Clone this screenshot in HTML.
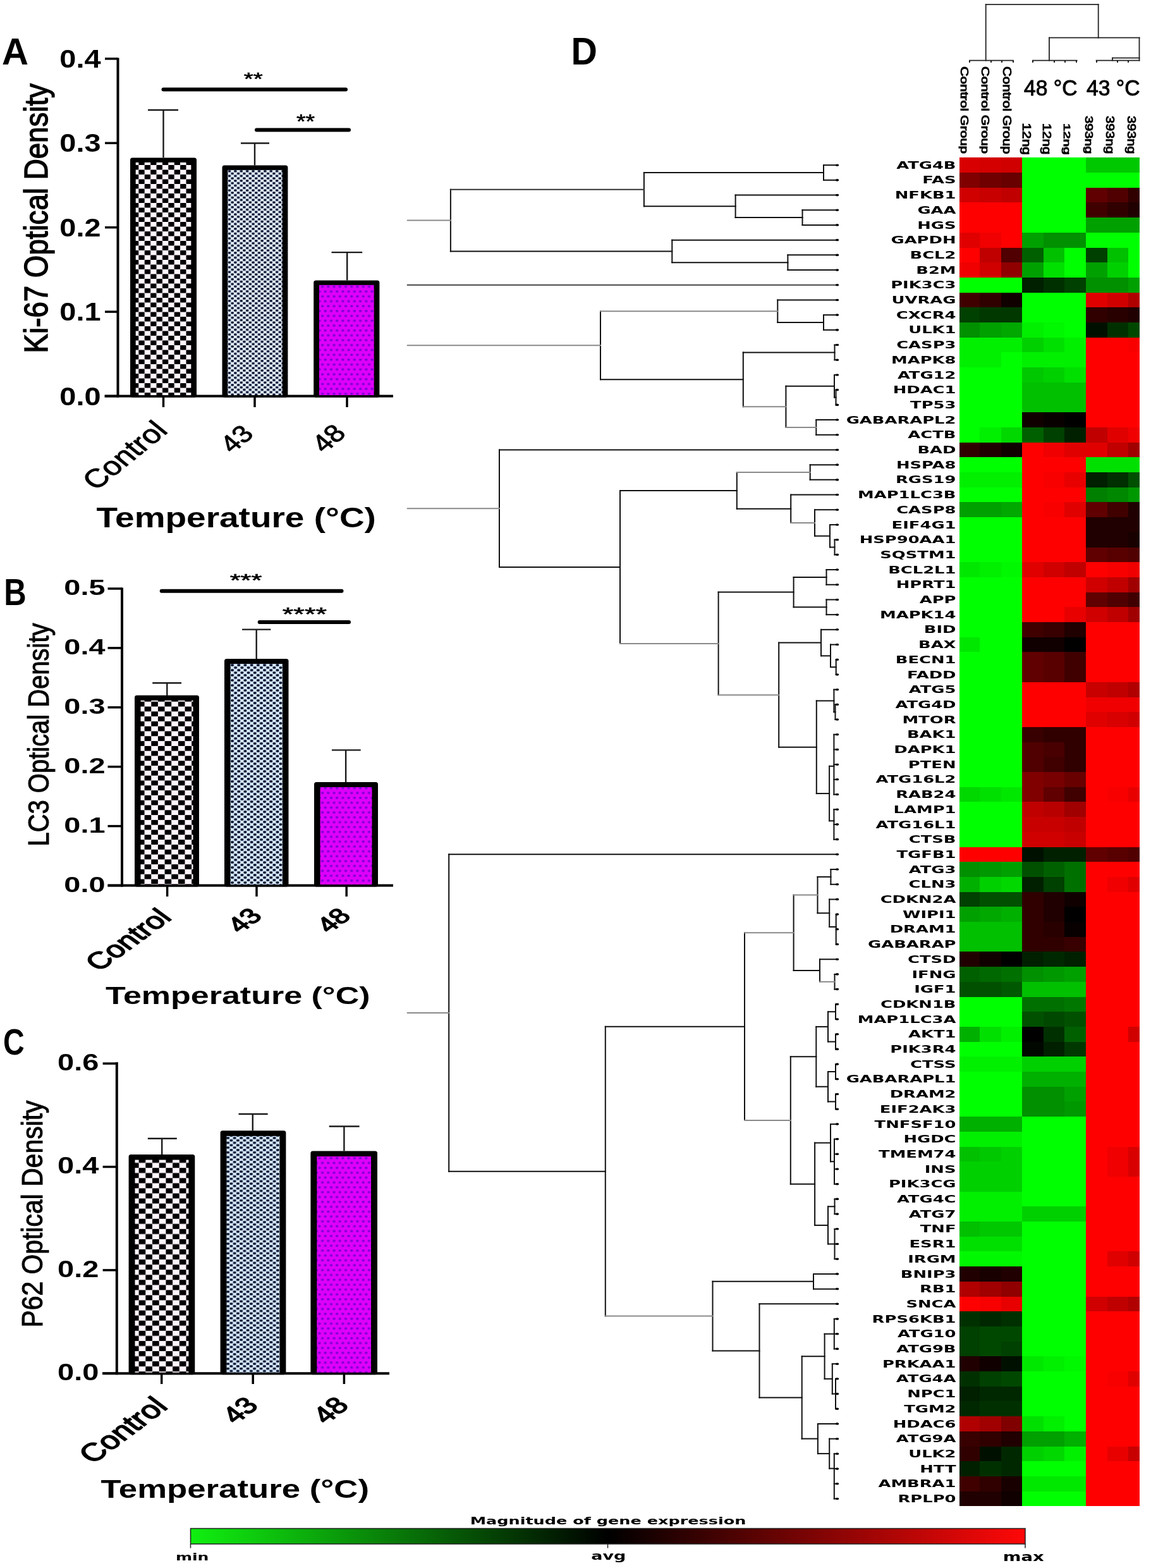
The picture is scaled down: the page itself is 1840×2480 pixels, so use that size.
<!DOCTYPE html>
<html><head><meta charset="utf-8"><title>Figure</title>
<style>html,body{margin:0;padding:0;background:#fff;overflow:hidden;width:1840px;height:2480px;} svg{display:block;}</style></head>
<body>
<svg width="1840" height="2480" viewBox="0 0 1840 2480"><defs><pattern id="chkA_A" patternUnits="userSpaceOnUse" x="228.7" y="261.0" width="18.8" height="15.0"><rect width="18.8" height="15.0" fill="#fff6fd"/><rect x="0.0" y="0.0" width="9.4" height="7.5" rx="0.8" fill="#030003"/><rect x="9.4" y="7.5" width="9.4" height="7.5" rx="0.8" fill="#030003"/></pattern><pattern id="chkA_B" patternUnits="userSpaceOnUse" x="217.95" y="1203.3" width="21.3" height="15.6"><rect width="21.3" height="15.6" fill="#fff6fd"/><rect x="0.0" y="0.0" width="10.65" height="7.8" rx="0.8" fill="#030003"/><rect x="10.65" y="7.8" width="10.65" height="7.8" rx="0.8" fill="#030003"/></pattern><pattern id="chkA_C" patternUnits="userSpaceOnUse" x="219.6" y="1911.6" width="21.4" height="16.1"><rect width="21.4" height="16.1" fill="#fff6fd"/><rect x="0.0" y="0.0" width="10.7" height="8.05" rx="0.8" fill="#030003"/><rect x="10.7" y="8.05" width="10.7" height="8.05" rx="0.8" fill="#030003"/></pattern><pattern id="chkB_A" patternUnits="userSpaceOnUse" x="360.6" y="268.8" width="9.4" height="7.6"><rect width="9.4" height="7.6" fill="#e4effc"/><rect x="0.2" y="0.2" width="4.3" height="3.4" rx="0.9" fill="#06102c"/><rect x="4.9" y="4.0" width="4.3" height="3.4" rx="0.9" fill="#06102c"/></pattern><pattern id="chkB_B" patternUnits="userSpaceOnUse" x="365.0" y="1050.0" width="10.2" height="8.0"><rect width="10.2" height="8.0" fill="#d6e8fb"/><rect x="0.25" y="0.25" width="4.6" height="3.5" rx="1.0" fill="#06102c"/><rect x="5.35" y="4.25" width="4.6" height="3.5" rx="1.0" fill="#06102c"/></pattern><pattern id="chkB_C" patternUnits="userSpaceOnUse" x="358.0" y="1798.0" width="10.5" height="7.6"><rect width="10.5" height="7.6" fill="#d6e8fb"/><rect x="0.25" y="0.25" width="4.75" height="3.3" rx="1.0" fill="#06102c"/><rect x="5.5" y="4.05" width="4.75" height="3.3" rx="1.0" fill="#06102c"/></pattern><pattern id="dotM" patternUnits="userSpaceOnUse" x="521.6" y="518.85" width="9.24" height="15.4"><rect width="9.24" height="15.4" fill="#de00fa"/><ellipse cx="2.31" cy="3.85" rx="2.3" ry="1.9" fill="#8400d4"/><ellipse cx="6.93" cy="11.55" rx="2.3" ry="1.9" fill="#8400d4"/></pattern></defs>
<line x1="186.50" y1="91.40" x2="186.50" y2="628.50" stroke="#000" stroke-width="4" stroke-linecap="butt"/>
<line x1="166.00" y1="626.50" x2="186.50" y2="626.50" stroke="#000" stroke-width="3.5" stroke-linecap="butt"/>
<line x1="166.00" y1="493.10" x2="186.50" y2="493.10" stroke="#000" stroke-width="3.5" stroke-linecap="butt"/>
<line x1="166.00" y1="359.70" x2="186.50" y2="359.70" stroke="#000" stroke-width="3.5" stroke-linecap="butt"/>
<line x1="166.00" y1="226.30" x2="186.50" y2="226.30" stroke="#000" stroke-width="3.5" stroke-linecap="butt"/>
<line x1="166.00" y1="92.90" x2="186.50" y2="92.90" stroke="#000" stroke-width="3.5" stroke-linecap="butt"/>
<line x1="165.50" y1="626.50" x2="622.00" y2="626.50" stroke="#000" stroke-width="4" stroke-linecap="butt"/>
<rect x="206.00" y="249.50" width="105.00" height="379.00" fill="#000" rx="3.5"/>
<rect x="214.70" y="256.90" width="87.60" height="368.10" fill="url(#chkA_A)" />
<rect x="351.50" y="261.50" width="103.90" height="367.00" fill="#000" rx="3.5"/>
<rect x="360.20" y="268.90" width="86.50" height="356.10" fill="url(#chkB_A)" />
<rect x="496.20" y="443.40" width="104.20" height="185.10" fill="#000" rx="3.5"/>
<rect x="504.90" y="450.80" width="86.80" height="174.20" fill="url(#dotM)" />
<line x1="258.50" y1="249.50" x2="258.50" y2="174.00" stroke="#1a1a1a" stroke-width="2.4" stroke-linecap="butt"/>
<line x1="234.00" y1="174.00" x2="282.00" y2="174.00" stroke="#1a1a1a" stroke-width="2.4" stroke-linecap="butt"/>
<line x1="403.00" y1="261.50" x2="403.00" y2="226.50" stroke="#1a1a1a" stroke-width="2.4" stroke-linecap="butt"/>
<line x1="381.00" y1="226.50" x2="426.00" y2="226.50" stroke="#1a1a1a" stroke-width="2.4" stroke-linecap="butt"/>
<line x1="549.20" y1="443.40" x2="549.20" y2="399.10" stroke="#1a1a1a" stroke-width="2.4" stroke-linecap="butt"/>
<line x1="524.50" y1="399.10" x2="573.20" y2="399.10" stroke="#1a1a1a" stroke-width="2.4" stroke-linecap="butt"/>
<line x1="258.50" y1="626.50" x2="258.50" y2="644.00" stroke="#000" stroke-width="3.5" stroke-linecap="butt"/>
<line x1="403.00" y1="626.50" x2="403.00" y2="644.00" stroke="#000" stroke-width="3.5" stroke-linecap="butt"/>
<line x1="549.00" y1="626.50" x2="549.00" y2="644.00" stroke="#000" stroke-width="3.5" stroke-linecap="butt"/>
<line x1="258.50" y1="141.60" x2="547.00" y2="141.60" stroke="#000" stroke-width="6" stroke-linecap="round"/>
<line x1="406.00" y1="205.60" x2="552.00" y2="205.60" stroke="#000" stroke-width="6" stroke-linecap="round"/>
<line x1="193.00" y1="929.40" x2="193.00" y2="1402.50" stroke="#000" stroke-width="4" stroke-linecap="butt"/>
<line x1="170.50" y1="1400.50" x2="193.00" y2="1400.50" stroke="#000" stroke-width="3.5" stroke-linecap="butt"/>
<line x1="170.50" y1="1306.60" x2="193.00" y2="1306.60" stroke="#000" stroke-width="3.5" stroke-linecap="butt"/>
<line x1="170.50" y1="1212.70" x2="193.00" y2="1212.70" stroke="#000" stroke-width="3.5" stroke-linecap="butt"/>
<line x1="170.50" y1="1118.80" x2="193.00" y2="1118.80" stroke="#000" stroke-width="3.5" stroke-linecap="butt"/>
<line x1="170.50" y1="1024.90" x2="193.00" y2="1024.90" stroke="#000" stroke-width="3.5" stroke-linecap="butt"/>
<line x1="170.50" y1="931.00" x2="193.00" y2="931.00" stroke="#000" stroke-width="3.5" stroke-linecap="butt"/>
<line x1="170.50" y1="1400.50" x2="622.00" y2="1400.50" stroke="#000" stroke-width="4" stroke-linecap="butt"/>
<rect x="213.00" y="1099.80" width="102.00" height="302.70" fill="#000" rx="3.5"/>
<rect x="222.50" y="1107.80" width="83.00" height="291.20" fill="url(#chkA_B)" />
<rect x="355.00" y="1042.00" width="101.50" height="360.50" fill="#000" rx="3.5"/>
<rect x="364.50" y="1050.00" width="82.50" height="349.00" fill="url(#chkB_B)" />
<rect x="497.00" y="1237.00" width="101.00" height="165.50" fill="#000" rx="3.5"/>
<rect x="506.50" y="1245.00" width="82.00" height="154.00" fill="url(#dotM)" />
<line x1="264.30" y1="1100.00" x2="264.30" y2="1080.30" stroke="#1a1a1a" stroke-width="2.4" stroke-linecap="butt"/>
<line x1="241.20" y1="1080.30" x2="287.00" y2="1080.30" stroke="#1a1a1a" stroke-width="2.4" stroke-linecap="butt"/>
<line x1="405.70" y1="1042.00" x2="405.70" y2="995.60" stroke="#1a1a1a" stroke-width="2.4" stroke-linecap="butt"/>
<line x1="383.00" y1="995.60" x2="428.40" y2="995.60" stroke="#1a1a1a" stroke-width="2.4" stroke-linecap="butt"/>
<line x1="547.10" y1="1237.00" x2="547.10" y2="1186.40" stroke="#1a1a1a" stroke-width="2.4" stroke-linecap="butt"/>
<line x1="525.00" y1="1186.40" x2="570.70" y2="1186.40" stroke="#1a1a1a" stroke-width="2.4" stroke-linecap="butt"/>
<line x1="264.60" y1="1400.50" x2="264.60" y2="1418.00" stroke="#000" stroke-width="3.5" stroke-linecap="butt"/>
<line x1="406.00" y1="1400.50" x2="406.00" y2="1418.00" stroke="#000" stroke-width="3.5" stroke-linecap="butt"/>
<line x1="548.20" y1="1400.50" x2="548.20" y2="1418.00" stroke="#000" stroke-width="3.5" stroke-linecap="butt"/>
<line x1="255.70" y1="934.80" x2="540.50" y2="934.80" stroke="#000" stroke-width="6" stroke-linecap="round"/>
<line x1="410.70" y1="984.00" x2="552.00" y2="984.00" stroke="#000" stroke-width="6" stroke-linecap="round"/>
<line x1="184.80" y1="1679.90" x2="184.80" y2="2174.30" stroke="#000" stroke-width="4" stroke-linecap="butt"/>
<line x1="162.60" y1="2172.30" x2="184.80" y2="2172.30" stroke="#000" stroke-width="3.5" stroke-linecap="butt"/>
<line x1="162.60" y1="2008.90" x2="184.80" y2="2008.90" stroke="#000" stroke-width="3.5" stroke-linecap="butt"/>
<line x1="162.60" y1="1845.50" x2="184.80" y2="1845.50" stroke="#000" stroke-width="3.5" stroke-linecap="butt"/>
<line x1="162.60" y1="1682.10" x2="184.80" y2="1682.10" stroke="#000" stroke-width="3.5" stroke-linecap="butt"/>
<line x1="162.00" y1="2172.30" x2="616.00" y2="2172.30" stroke="#000" stroke-width="4" stroke-linecap="butt"/>
<rect x="203.60" y="1826.00" width="104.70" height="348.30" fill="#000" rx="3.5"/>
<rect x="213.50" y="1834.50" width="84.90" height="336.30" fill="url(#chkA_C)" />
<rect x="348.60" y="1788.30" width="103.80" height="386.00" fill="#000" rx="3.5"/>
<rect x="358.50" y="1796.80" width="84.00" height="374.00" fill="url(#chkB_C)" />
<rect x="491.40" y="1820.50" width="105.60" height="353.80" fill="#000" rx="3.5"/>
<rect x="501.30" y="1829.00" width="85.80" height="341.80" fill="url(#dotM)" />
<line x1="256.20" y1="1826.00" x2="256.20" y2="1800.80" stroke="#1a1a1a" stroke-width="2.4" stroke-linecap="butt"/>
<line x1="233.80" y1="1800.80" x2="279.80" y2="1800.80" stroke="#1a1a1a" stroke-width="2.4" stroke-linecap="butt"/>
<line x1="399.80" y1="1788.30" x2="399.80" y2="1762.00" stroke="#1a1a1a" stroke-width="2.4" stroke-linecap="butt"/>
<line x1="377.50" y1="1762.00" x2="423.70" y2="1762.00" stroke="#1a1a1a" stroke-width="2.4" stroke-linecap="butt"/>
<line x1="544.40" y1="1820.50" x2="544.40" y2="1781.50" stroke="#1a1a1a" stroke-width="2.4" stroke-linecap="butt"/>
<line x1="520.70" y1="1781.50" x2="568.60" y2="1781.50" stroke="#1a1a1a" stroke-width="2.4" stroke-linecap="butt"/>
<line x1="255.70" y1="2172.30" x2="255.70" y2="2189.00" stroke="#000" stroke-width="3.5" stroke-linecap="butt"/>
<line x1="400.20" y1="2172.30" x2="400.20" y2="2189.00" stroke="#000" stroke-width="3.5" stroke-linecap="butt"/>
<line x1="544.40" y1="2172.30" x2="544.40" y2="2189.00" stroke="#000" stroke-width="3.5" stroke-linecap="butt"/>
<line x1="1303.00" y1="261.15" x2="1303.00" y2="284.85" stroke="#111" stroke-width="2.0" stroke-linecap="square"/>
<line x1="1303.00" y1="261.15" x2="1326.00" y2="261.15" stroke="#111" stroke-width="2.0" stroke-linecap="square"/>
<line x1="1303.00" y1="284.85" x2="1326.00" y2="284.85" stroke="#111" stroke-width="2.0" stroke-linecap="square"/>
<line x1="1269.50" y1="332.25" x2="1269.50" y2="355.95" stroke="#111" stroke-width="2.0" stroke-linecap="square"/>
<line x1="1269.50" y1="332.25" x2="1326.00" y2="332.25" stroke="#111" stroke-width="2.0" stroke-linecap="square"/>
<line x1="1269.50" y1="355.95" x2="1326.00" y2="355.95" stroke="#111" stroke-width="2.0" stroke-linecap="square"/>
<line x1="1163.60" y1="308.55" x2="1163.60" y2="344.10" stroke="#111" stroke-width="2.0" stroke-linecap="square"/>
<line x1="1163.60" y1="308.55" x2="1326.00" y2="308.55" stroke="#111" stroke-width="2.0" stroke-linecap="square"/>
<line x1="1163.60" y1="344.10" x2="1269.50" y2="344.10" stroke="#111" stroke-width="2.0" stroke-linecap="square"/>
<line x1="1018.90" y1="273.00" x2="1018.90" y2="326.33" stroke="#111" stroke-width="2.0" stroke-linecap="square"/>
<line x1="1018.90" y1="273.00" x2="1303.00" y2="273.00" stroke="#111" stroke-width="2.0" stroke-linecap="square"/>
<line x1="1018.90" y1="326.33" x2="1163.60" y2="326.33" stroke="#111" stroke-width="2.0" stroke-linecap="square"/>
<line x1="1246.40" y1="403.35" x2="1246.40" y2="427.05" stroke="#111" stroke-width="2.0" stroke-linecap="square"/>
<line x1="1246.40" y1="403.35" x2="1326.00" y2="403.35" stroke="#111" stroke-width="2.0" stroke-linecap="square"/>
<line x1="1246.40" y1="427.05" x2="1326.00" y2="427.05" stroke="#111" stroke-width="2.0" stroke-linecap="square"/>
<line x1="1063.30" y1="379.65" x2="1063.30" y2="415.20" stroke="#111" stroke-width="2.0" stroke-linecap="square"/>
<line x1="1063.30" y1="379.65" x2="1326.00" y2="379.65" stroke="#111" stroke-width="2.0" stroke-linecap="square"/>
<line x1="1063.30" y1="415.20" x2="1246.40" y2="415.20" stroke="#111" stroke-width="2.0" stroke-linecap="square"/>
<line x1="712.90" y1="299.66" x2="712.90" y2="397.43" stroke="#111" stroke-width="2.0" stroke-linecap="square"/>
<line x1="712.90" y1="299.66" x2="1018.90" y2="299.66" stroke="#333" stroke-width="2.0" stroke-linecap="square"/>
<line x1="712.90" y1="397.43" x2="1063.30" y2="397.43" stroke="#111" stroke-width="2.0" stroke-linecap="square"/>
<line x1="644.80" y1="348.54" x2="712.90" y2="348.54" stroke="#8a8a8a" stroke-width="2.0" stroke-linecap="square"/>
<line x1="644.80" y1="450.75" x2="1326.00" y2="450.75" stroke="#444" stroke-width="2.0" stroke-linecap="square"/>
<line x1="1303.00" y1="498.15" x2="1303.00" y2="521.85" stroke="#111" stroke-width="2.0" stroke-linecap="square"/>
<line x1="1303.00" y1="498.15" x2="1326.00" y2="498.15" stroke="#111" stroke-width="2.0" stroke-linecap="square"/>
<line x1="1303.00" y1="521.85" x2="1326.00" y2="521.85" stroke="#111" stroke-width="2.0" stroke-linecap="square"/>
<line x1="1230.30" y1="474.45" x2="1230.30" y2="510.00" stroke="#111" stroke-width="2.0" stroke-linecap="square"/>
<line x1="1230.30" y1="474.45" x2="1326.00" y2="474.45" stroke="#111" stroke-width="2.0" stroke-linecap="square"/>
<line x1="1230.30" y1="510.00" x2="1303.00" y2="510.00" stroke="#111" stroke-width="2.0" stroke-linecap="square"/>
<line x1="1320.50" y1="545.55" x2="1320.50" y2="569.25" stroke="#111" stroke-width="2.0" stroke-linecap="square"/>
<line x1="1320.50" y1="545.55" x2="1326.00" y2="545.55" stroke="#111" stroke-width="2.0" stroke-linecap="square"/>
<line x1="1320.50" y1="569.25" x2="1326.00" y2="569.25" stroke="#111" stroke-width="2.0" stroke-linecap="square"/>
<line x1="1322.50" y1="616.65" x2="1322.50" y2="640.35" stroke="#111" stroke-width="2.0" stroke-linecap="square"/>
<line x1="1322.50" y1="616.65" x2="1326.00" y2="616.65" stroke="#111" stroke-width="2.0" stroke-linecap="square"/>
<line x1="1322.50" y1="640.35" x2="1326.00" y2="640.35" stroke="#111" stroke-width="2.0" stroke-linecap="square"/>
<line x1="1320.00" y1="592.95" x2="1320.00" y2="628.50" stroke="#111" stroke-width="2.0" stroke-linecap="square"/>
<line x1="1320.00" y1="592.95" x2="1326.00" y2="592.95" stroke="#111" stroke-width="2.0" stroke-linecap="square"/>
<line x1="1320.00" y1="628.50" x2="1322.50" y2="628.50" stroke="#111" stroke-width="2.0" stroke-linecap="square"/>
<line x1="1291.30" y1="664.05" x2="1291.30" y2="687.75" stroke="#111" stroke-width="2.0" stroke-linecap="square"/>
<line x1="1291.30" y1="664.05" x2="1326.00" y2="664.05" stroke="#111" stroke-width="2.0" stroke-linecap="square"/>
<line x1="1291.30" y1="687.75" x2="1326.00" y2="687.75" stroke="#111" stroke-width="2.0" stroke-linecap="square"/>
<line x1="1243.40" y1="610.73" x2="1243.40" y2="675.90" stroke="#111" stroke-width="2.0" stroke-linecap="square"/>
<line x1="1243.40" y1="610.73" x2="1320.00" y2="610.73" stroke="#111" stroke-width="2.0" stroke-linecap="square"/>
<line x1="1243.40" y1="675.90" x2="1291.30" y2="675.90" stroke="#8a8a8a" stroke-width="2.0" stroke-linecap="square"/>
<line x1="1175.80" y1="557.40" x2="1175.80" y2="643.31" stroke="#111" stroke-width="2.0" stroke-linecap="square"/>
<line x1="1175.80" y1="557.40" x2="1320.50" y2="557.40" stroke="#111" stroke-width="2.0" stroke-linecap="square"/>
<line x1="1175.80" y1="643.31" x2="1243.40" y2="643.31" stroke="#8a8a8a" stroke-width="2.0" stroke-linecap="square"/>
<line x1="950.00" y1="492.23" x2="950.00" y2="600.36" stroke="#111" stroke-width="2.0" stroke-linecap="square"/>
<line x1="950.00" y1="492.23" x2="1230.30" y2="492.23" stroke="#8a8a8a" stroke-width="2.0" stroke-linecap="square"/>
<line x1="950.00" y1="600.36" x2="1175.80" y2="600.36" stroke="#111" stroke-width="2.0" stroke-linecap="square"/>
<line x1="644.80" y1="546.29" x2="950.00" y2="546.29" stroke="#8a8a8a" stroke-width="2.0" stroke-linecap="square"/>
<line x1="1281.70" y1="735.15" x2="1281.70" y2="758.85" stroke="#111" stroke-width="2.0" stroke-linecap="square"/>
<line x1="1281.70" y1="735.15" x2="1326.00" y2="735.15" stroke="#111" stroke-width="2.0" stroke-linecap="square"/>
<line x1="1281.70" y1="758.85" x2="1326.00" y2="758.85" stroke="#111" stroke-width="2.0" stroke-linecap="square"/>
<line x1="1320.50" y1="853.65" x2="1320.50" y2="877.35" stroke="#111" stroke-width="2.0" stroke-linecap="square"/>
<line x1="1320.50" y1="853.65" x2="1326.00" y2="853.65" stroke="#111" stroke-width="2.0" stroke-linecap="square"/>
<line x1="1320.50" y1="877.35" x2="1326.00" y2="877.35" stroke="#111" stroke-width="2.0" stroke-linecap="square"/>
<line x1="1313.00" y1="829.95" x2="1313.00" y2="865.50" stroke="#111" stroke-width="2.0" stroke-linecap="square"/>
<line x1="1313.00" y1="829.95" x2="1326.00" y2="829.95" stroke="#111" stroke-width="2.0" stroke-linecap="square"/>
<line x1="1313.00" y1="865.50" x2="1320.50" y2="865.50" stroke="#111" stroke-width="2.0" stroke-linecap="square"/>
<line x1="1289.00" y1="806.25" x2="1289.00" y2="847.73" stroke="#111" stroke-width="2.0" stroke-linecap="square"/>
<line x1="1289.00" y1="806.25" x2="1326.00" y2="806.25" stroke="#111" stroke-width="2.0" stroke-linecap="square"/>
<line x1="1289.00" y1="847.73" x2="1313.00" y2="847.73" stroke="#111" stroke-width="2.0" stroke-linecap="square"/>
<line x1="1251.20" y1="782.55" x2="1251.20" y2="826.99" stroke="#111" stroke-width="2.0" stroke-linecap="square"/>
<line x1="1251.20" y1="782.55" x2="1326.00" y2="782.55" stroke="#111" stroke-width="2.0" stroke-linecap="square"/>
<line x1="1251.20" y1="826.99" x2="1289.00" y2="826.99" stroke="#8a8a8a" stroke-width="2.0" stroke-linecap="square"/>
<line x1="1165.80" y1="747.00" x2="1165.80" y2="804.77" stroke="#111" stroke-width="2.0" stroke-linecap="square"/>
<line x1="1165.80" y1="747.00" x2="1281.70" y2="747.00" stroke="#8a8a8a" stroke-width="2.0" stroke-linecap="square"/>
<line x1="1165.80" y1="804.77" x2="1251.20" y2="804.77" stroke="#111" stroke-width="2.0" stroke-linecap="square"/>
<line x1="1307.50" y1="901.05" x2="1307.50" y2="924.75" stroke="#111" stroke-width="2.0" stroke-linecap="square"/>
<line x1="1307.50" y1="901.05" x2="1326.00" y2="901.05" stroke="#111" stroke-width="2.0" stroke-linecap="square"/>
<line x1="1307.50" y1="924.75" x2="1326.00" y2="924.75" stroke="#111" stroke-width="2.0" stroke-linecap="square"/>
<line x1="1307.50" y1="948.45" x2="1307.50" y2="972.15" stroke="#111" stroke-width="2.0" stroke-linecap="square"/>
<line x1="1307.50" y1="948.45" x2="1326.00" y2="948.45" stroke="#111" stroke-width="2.0" stroke-linecap="square"/>
<line x1="1307.50" y1="972.15" x2="1326.00" y2="972.15" stroke="#111" stroke-width="2.0" stroke-linecap="square"/>
<line x1="1255.60" y1="912.90" x2="1255.60" y2="960.30" stroke="#111" stroke-width="2.0" stroke-linecap="square"/>
<line x1="1255.60" y1="912.90" x2="1307.50" y2="912.90" stroke="#111" stroke-width="2.0" stroke-linecap="square"/>
<line x1="1255.60" y1="960.30" x2="1307.50" y2="960.30" stroke="#111" stroke-width="2.0" stroke-linecap="square"/>
<line x1="1322.70" y1="1043.25" x2="1322.70" y2="1066.95" stroke="#111" stroke-width="2.0" stroke-linecap="square"/>
<line x1="1322.70" y1="1043.25" x2="1326.00" y2="1043.25" stroke="#111" stroke-width="2.0" stroke-linecap="square"/>
<line x1="1322.70" y1="1066.95" x2="1326.00" y2="1066.95" stroke="#111" stroke-width="2.0" stroke-linecap="square"/>
<line x1="1314.00" y1="1019.55" x2="1314.00" y2="1055.10" stroke="#111" stroke-width="2.0" stroke-linecap="square"/>
<line x1="1314.00" y1="1019.55" x2="1326.00" y2="1019.55" stroke="#111" stroke-width="2.0" stroke-linecap="square"/>
<line x1="1314.00" y1="1055.10" x2="1322.70" y2="1055.10" stroke="#111" stroke-width="2.0" stroke-linecap="square"/>
<line x1="1299.00" y1="995.85" x2="1299.00" y2="1037.32" stroke="#111" stroke-width="2.0" stroke-linecap="square"/>
<line x1="1299.00" y1="995.85" x2="1326.00" y2="995.85" stroke="#111" stroke-width="2.0" stroke-linecap="square"/>
<line x1="1299.00" y1="1037.32" x2="1314.00" y2="1037.32" stroke="#111" stroke-width="2.0" stroke-linecap="square"/>
<line x1="1321.50" y1="1114.35" x2="1321.50" y2="1138.05" stroke="#111" stroke-width="2.0" stroke-linecap="square"/>
<line x1="1321.50" y1="1114.35" x2="1326.00" y2="1114.35" stroke="#111" stroke-width="2.0" stroke-linecap="square"/>
<line x1="1321.50" y1="1138.05" x2="1326.00" y2="1138.05" stroke="#111" stroke-width="2.0" stroke-linecap="square"/>
<line x1="1319.40" y1="1090.65" x2="1319.40" y2="1126.20" stroke="#111" stroke-width="2.0" stroke-linecap="square"/>
<line x1="1319.40" y1="1090.65" x2="1326.00" y2="1090.65" stroke="#111" stroke-width="2.0" stroke-linecap="square"/>
<line x1="1319.40" y1="1126.20" x2="1321.50" y2="1126.20" stroke="#111" stroke-width="2.0" stroke-linecap="square"/>
<line x1="1319.40" y1="1161.75" x2="1319.40" y2="1256.55" stroke="#111" stroke-width="2.0" stroke-linecap="square"/>
<line x1="1319.40" y1="1161.75" x2="1326.00" y2="1161.75" stroke="#111" stroke-width="2.0" stroke-linecap="square"/>
<line x1="1319.40" y1="1185.45" x2="1326.00" y2="1185.45" stroke="#111" stroke-width="2.0" stroke-linecap="square"/>
<line x1="1319.40" y1="1209.15" x2="1326.00" y2="1209.15" stroke="#111" stroke-width="2.0" stroke-linecap="square"/>
<line x1="1319.40" y1="1232.85" x2="1326.00" y2="1232.85" stroke="#111" stroke-width="2.0" stroke-linecap="square"/>
<line x1="1319.40" y1="1256.55" x2="1326.00" y2="1256.55" stroke="#111" stroke-width="2.0" stroke-linecap="square"/>
<line x1="1319.40" y1="1280.25" x2="1319.40" y2="1327.65" stroke="#111" stroke-width="2.0" stroke-linecap="square"/>
<line x1="1319.40" y1="1280.25" x2="1326.00" y2="1280.25" stroke="#111" stroke-width="2.0" stroke-linecap="square"/>
<line x1="1319.40" y1="1303.95" x2="1326.00" y2="1303.95" stroke="#111" stroke-width="2.0" stroke-linecap="square"/>
<line x1="1319.40" y1="1327.65" x2="1326.00" y2="1327.65" stroke="#111" stroke-width="2.0" stroke-linecap="square"/>
<line x1="1312.10" y1="1211.80" x2="1312.10" y2="1298.30" stroke="#111" stroke-width="2.0" stroke-linecap="square"/>
<line x1="1312.10" y1="1211.80" x2="1319.40" y2="1211.80" stroke="#111" stroke-width="2.0" stroke-linecap="square"/>
<line x1="1312.10" y1="1298.30" x2="1319.40" y2="1298.30" stroke="#111" stroke-width="2.0" stroke-linecap="square"/>
<line x1="1291.80" y1="1108.42" x2="1291.80" y2="1255.05" stroke="#111" stroke-width="2.0" stroke-linecap="square"/>
<line x1="1291.80" y1="1108.42" x2="1319.40" y2="1108.42" stroke="#111" stroke-width="2.0" stroke-linecap="square"/>
<line x1="1291.80" y1="1255.05" x2="1312.10" y2="1255.05" stroke="#111" stroke-width="2.0" stroke-linecap="square"/>
<line x1="1232.20" y1="1016.59" x2="1232.20" y2="1181.74" stroke="#111" stroke-width="2.0" stroke-linecap="square"/>
<line x1="1232.20" y1="1016.59" x2="1299.00" y2="1016.59" stroke="#111" stroke-width="2.0" stroke-linecap="square"/>
<line x1="1232.20" y1="1181.74" x2="1291.80" y2="1181.74" stroke="#111" stroke-width="2.0" stroke-linecap="square"/>
<line x1="1136.60" y1="936.60" x2="1136.60" y2="1099.16" stroke="#111" stroke-width="2.0" stroke-linecap="square"/>
<line x1="1136.60" y1="936.60" x2="1255.60" y2="936.60" stroke="#111" stroke-width="2.0" stroke-linecap="square"/>
<line x1="1136.60" y1="1099.16" x2="1232.20" y2="1099.16" stroke="#8a8a8a" stroke-width="2.0" stroke-linecap="square"/>
<line x1="981.00" y1="775.88" x2="981.00" y2="1017.88" stroke="#111" stroke-width="2.0" stroke-linecap="square"/>
<line x1="981.00" y1="775.88" x2="1165.80" y2="775.88" stroke="#111" stroke-width="2.0" stroke-linecap="square"/>
<line x1="981.00" y1="1017.88" x2="1136.60" y2="1017.88" stroke="#8a8a8a" stroke-width="2.0" stroke-linecap="square"/>
<line x1="790.00" y1="711.45" x2="790.00" y2="896.88" stroke="#111" stroke-width="2.0" stroke-linecap="square"/>
<line x1="790.00" y1="711.45" x2="1326.00" y2="711.45" stroke="#111" stroke-width="2.0" stroke-linecap="square"/>
<line x1="790.00" y1="896.88" x2="981.00" y2="896.88" stroke="#111" stroke-width="2.0" stroke-linecap="square"/>
<line x1="644.80" y1="804.17" x2="790.00" y2="804.17" stroke="#8a8a8a" stroke-width="2.0" stroke-linecap="square"/>
<line x1="1314.40" y1="1375.05" x2="1314.40" y2="1398.75" stroke="#111" stroke-width="2.0" stroke-linecap="square"/>
<line x1="1314.40" y1="1375.05" x2="1326.00" y2="1375.05" stroke="#111" stroke-width="2.0" stroke-linecap="square"/>
<line x1="1314.40" y1="1398.75" x2="1326.00" y2="1398.75" stroke="#111" stroke-width="2.0" stroke-linecap="square"/>
<line x1="1322.70" y1="1446.15" x2="1322.70" y2="1493.55" stroke="#111" stroke-width="2.0" stroke-linecap="square"/>
<line x1="1322.70" y1="1446.15" x2="1326.00" y2="1446.15" stroke="#111" stroke-width="2.0" stroke-linecap="square"/>
<line x1="1322.70" y1="1469.85" x2="1326.00" y2="1469.85" stroke="#111" stroke-width="2.0" stroke-linecap="square"/>
<line x1="1322.70" y1="1493.55" x2="1326.00" y2="1493.55" stroke="#111" stroke-width="2.0" stroke-linecap="square"/>
<line x1="1312.20" y1="1422.45" x2="1312.20" y2="1466.00" stroke="#111" stroke-width="2.0" stroke-linecap="square"/>
<line x1="1312.20" y1="1422.45" x2="1326.00" y2="1422.45" stroke="#111" stroke-width="2.0" stroke-linecap="square"/>
<line x1="1312.20" y1="1466.00" x2="1322.70" y2="1466.00" stroke="#111" stroke-width="2.0" stroke-linecap="square"/>
<line x1="1293.50" y1="1386.90" x2="1293.50" y2="1444.22" stroke="#111" stroke-width="2.0" stroke-linecap="square"/>
<line x1="1293.50" y1="1386.90" x2="1314.40" y2="1386.90" stroke="#111" stroke-width="2.0" stroke-linecap="square"/>
<line x1="1293.50" y1="1444.22" x2="1312.20" y2="1444.22" stroke="#111" stroke-width="2.0" stroke-linecap="square"/>
<line x1="1320.50" y1="1540.95" x2="1320.50" y2="1564.65" stroke="#111" stroke-width="2.0" stroke-linecap="square"/>
<line x1="1320.50" y1="1540.95" x2="1326.00" y2="1540.95" stroke="#111" stroke-width="2.0" stroke-linecap="square"/>
<line x1="1320.50" y1="1564.65" x2="1326.00" y2="1564.65" stroke="#111" stroke-width="2.0" stroke-linecap="square"/>
<line x1="1297.00" y1="1517.25" x2="1297.00" y2="1552.80" stroke="#111" stroke-width="2.0" stroke-linecap="square"/>
<line x1="1297.00" y1="1517.25" x2="1326.00" y2="1517.25" stroke="#111" stroke-width="2.0" stroke-linecap="square"/>
<line x1="1297.00" y1="1552.80" x2="1320.50" y2="1552.80" stroke="#8a8a8a" stroke-width="2.0" stroke-linecap="square"/>
<line x1="1255.60" y1="1415.56" x2="1255.60" y2="1535.02" stroke="#111" stroke-width="2.0" stroke-linecap="square"/>
<line x1="1255.60" y1="1415.56" x2="1293.50" y2="1415.56" stroke="#8a8a8a" stroke-width="2.0" stroke-linecap="square"/>
<line x1="1255.60" y1="1535.02" x2="1297.00" y2="1535.02" stroke="#111" stroke-width="2.0" stroke-linecap="square"/>
<line x1="1322.00" y1="1588.35" x2="1322.00" y2="1612.05" stroke="#111" stroke-width="2.0" stroke-linecap="square"/>
<line x1="1322.00" y1="1588.35" x2="1326.00" y2="1588.35" stroke="#111" stroke-width="2.0" stroke-linecap="square"/>
<line x1="1322.00" y1="1612.05" x2="1326.00" y2="1612.05" stroke="#111" stroke-width="2.0" stroke-linecap="square"/>
<line x1="1322.00" y1="1635.75" x2="1322.00" y2="1659.45" stroke="#111" stroke-width="2.0" stroke-linecap="square"/>
<line x1="1322.00" y1="1635.75" x2="1326.00" y2="1635.75" stroke="#111" stroke-width="2.0" stroke-linecap="square"/>
<line x1="1322.00" y1="1659.45" x2="1326.00" y2="1659.45" stroke="#111" stroke-width="2.0" stroke-linecap="square"/>
<line x1="1310.00" y1="1600.20" x2="1310.00" y2="1647.60" stroke="#111" stroke-width="2.0" stroke-linecap="square"/>
<line x1="1310.00" y1="1600.20" x2="1322.00" y2="1600.20" stroke="#111" stroke-width="2.0" stroke-linecap="square"/>
<line x1="1310.00" y1="1647.60" x2="1322.00" y2="1647.60" stroke="#111" stroke-width="2.0" stroke-linecap="square"/>
<line x1="1322.00" y1="1683.15" x2="1322.00" y2="1706.85" stroke="#111" stroke-width="2.0" stroke-linecap="square"/>
<line x1="1322.00" y1="1683.15" x2="1326.00" y2="1683.15" stroke="#111" stroke-width="2.0" stroke-linecap="square"/>
<line x1="1322.00" y1="1706.85" x2="1326.00" y2="1706.85" stroke="#111" stroke-width="2.0" stroke-linecap="square"/>
<line x1="1322.00" y1="1730.55" x2="1322.00" y2="1754.25" stroke="#111" stroke-width="2.0" stroke-linecap="square"/>
<line x1="1322.00" y1="1730.55" x2="1326.00" y2="1730.55" stroke="#111" stroke-width="2.0" stroke-linecap="square"/>
<line x1="1322.00" y1="1754.25" x2="1326.00" y2="1754.25" stroke="#111" stroke-width="2.0" stroke-linecap="square"/>
<line x1="1310.00" y1="1695.00" x2="1310.00" y2="1742.40" stroke="#111" stroke-width="2.0" stroke-linecap="square"/>
<line x1="1310.00" y1="1695.00" x2="1322.00" y2="1695.00" stroke="#111" stroke-width="2.0" stroke-linecap="square"/>
<line x1="1310.00" y1="1742.40" x2="1322.00" y2="1742.40" stroke="#111" stroke-width="2.0" stroke-linecap="square"/>
<line x1="1291.30" y1="1623.90" x2="1291.30" y2="1718.70" stroke="#111" stroke-width="2.0" stroke-linecap="square"/>
<line x1="1291.30" y1="1623.90" x2="1310.00" y2="1623.90" stroke="#111" stroke-width="2.0" stroke-linecap="square"/>
<line x1="1291.30" y1="1718.70" x2="1310.00" y2="1718.70" stroke="#111" stroke-width="2.0" stroke-linecap="square"/>
<line x1="1320.00" y1="1801.65" x2="1320.00" y2="1872.75" stroke="#111" stroke-width="2.0" stroke-linecap="square"/>
<line x1="1320.00" y1="1801.65" x2="1326.00" y2="1801.65" stroke="#111" stroke-width="2.0" stroke-linecap="square"/>
<line x1="1320.00" y1="1825.35" x2="1326.00" y2="1825.35" stroke="#111" stroke-width="2.0" stroke-linecap="square"/>
<line x1="1320.00" y1="1849.05" x2="1326.00" y2="1849.05" stroke="#111" stroke-width="2.0" stroke-linecap="square"/>
<line x1="1320.00" y1="1872.75" x2="1326.00" y2="1872.75" stroke="#111" stroke-width="2.0" stroke-linecap="square"/>
<line x1="1314.00" y1="1777.95" x2="1314.00" y2="1837.20" stroke="#111" stroke-width="2.0" stroke-linecap="square"/>
<line x1="1314.00" y1="1777.95" x2="1326.00" y2="1777.95" stroke="#111" stroke-width="2.0" stroke-linecap="square"/>
<line x1="1314.00" y1="1837.20" x2="1320.00" y2="1837.20" stroke="#111" stroke-width="2.0" stroke-linecap="square"/>
<line x1="1320.50" y1="1896.45" x2="1320.50" y2="1920.15" stroke="#111" stroke-width="2.0" stroke-linecap="square"/>
<line x1="1320.50" y1="1896.45" x2="1326.00" y2="1896.45" stroke="#111" stroke-width="2.0" stroke-linecap="square"/>
<line x1="1320.50" y1="1920.15" x2="1326.00" y2="1920.15" stroke="#111" stroke-width="2.0" stroke-linecap="square"/>
<line x1="1320.50" y1="1943.85" x2="1320.50" y2="1991.25" stroke="#111" stroke-width="2.0" stroke-linecap="square"/>
<line x1="1320.50" y1="1943.85" x2="1326.00" y2="1943.85" stroke="#111" stroke-width="2.0" stroke-linecap="square"/>
<line x1="1320.50" y1="1967.55" x2="1326.00" y2="1967.55" stroke="#111" stroke-width="2.0" stroke-linecap="square"/>
<line x1="1320.50" y1="1991.25" x2="1326.00" y2="1991.25" stroke="#111" stroke-width="2.0" stroke-linecap="square"/>
<line x1="1310.00" y1="1908.30" x2="1310.00" y2="1967.55" stroke="#111" stroke-width="2.0" stroke-linecap="square"/>
<line x1="1310.00" y1="1908.30" x2="1320.50" y2="1908.30" stroke="#111" stroke-width="2.0" stroke-linecap="square"/>
<line x1="1310.00" y1="1967.55" x2="1320.50" y2="1967.55" stroke="#111" stroke-width="2.0" stroke-linecap="square"/>
<line x1="1289.10" y1="1807.57" x2="1289.10" y2="1937.92" stroke="#111" stroke-width="2.0" stroke-linecap="square"/>
<line x1="1289.10" y1="1807.57" x2="1314.00" y2="1807.57" stroke="#111" stroke-width="2.0" stroke-linecap="square"/>
<line x1="1289.10" y1="1937.92" x2="1310.00" y2="1937.92" stroke="#111" stroke-width="2.0" stroke-linecap="square"/>
<line x1="1250.80" y1="1671.30" x2="1250.80" y2="1872.75" stroke="#111" stroke-width="2.0" stroke-linecap="square"/>
<line x1="1250.80" y1="1671.30" x2="1291.30" y2="1671.30" stroke="#111" stroke-width="2.0" stroke-linecap="square"/>
<line x1="1250.80" y1="1872.75" x2="1289.10" y2="1872.75" stroke="#111" stroke-width="2.0" stroke-linecap="square"/>
<line x1="1178.00" y1="1475.29" x2="1178.00" y2="1772.02" stroke="#111" stroke-width="2.0" stroke-linecap="square"/>
<line x1="1178.00" y1="1475.29" x2="1255.60" y2="1475.29" stroke="#8a8a8a" stroke-width="2.0" stroke-linecap="square"/>
<line x1="1178.00" y1="1772.02" x2="1250.80" y2="1772.02" stroke="#8a8a8a" stroke-width="2.0" stroke-linecap="square"/>
<line x1="1287.00" y1="2014.95" x2="1287.00" y2="2038.65" stroke="#111" stroke-width="2.0" stroke-linecap="square"/>
<line x1="1287.00" y1="2014.95" x2="1326.00" y2="2014.95" stroke="#111" stroke-width="2.0" stroke-linecap="square"/>
<line x1="1287.00" y1="2038.65" x2="1326.00" y2="2038.65" stroke="#111" stroke-width="2.0" stroke-linecap="square"/>
<line x1="1319.80" y1="2086.05" x2="1319.80" y2="2133.45" stroke="#111" stroke-width="2.0" stroke-linecap="square"/>
<line x1="1319.80" y1="2086.05" x2="1326.00" y2="2086.05" stroke="#111" stroke-width="2.0" stroke-linecap="square"/>
<line x1="1319.80" y1="2109.75" x2="1326.00" y2="2109.75" stroke="#111" stroke-width="2.0" stroke-linecap="square"/>
<line x1="1319.80" y1="2133.45" x2="1326.00" y2="2133.45" stroke="#111" stroke-width="2.0" stroke-linecap="square"/>
<line x1="1322.00" y1="2180.85" x2="1322.00" y2="2228.25" stroke="#111" stroke-width="2.0" stroke-linecap="square"/>
<line x1="1322.00" y1="2180.85" x2="1326.00" y2="2180.85" stroke="#111" stroke-width="2.0" stroke-linecap="square"/>
<line x1="1322.00" y1="2204.55" x2="1326.00" y2="2204.55" stroke="#111" stroke-width="2.0" stroke-linecap="square"/>
<line x1="1322.00" y1="2228.25" x2="1326.00" y2="2228.25" stroke="#111" stroke-width="2.0" stroke-linecap="square"/>
<line x1="1316.80" y1="2157.15" x2="1316.80" y2="2204.55" stroke="#111" stroke-width="2.0" stroke-linecap="square"/>
<line x1="1316.80" y1="2157.15" x2="1326.00" y2="2157.15" stroke="#111" stroke-width="2.0" stroke-linecap="square"/>
<line x1="1316.80" y1="2204.55" x2="1322.00" y2="2204.55" stroke="#111" stroke-width="2.0" stroke-linecap="square"/>
<line x1="1304.60" y1="2109.75" x2="1304.60" y2="2180.85" stroke="#111" stroke-width="2.0" stroke-linecap="square"/>
<line x1="1304.60" y1="2109.75" x2="1319.80" y2="2109.75" stroke="#111" stroke-width="2.0" stroke-linecap="square"/>
<line x1="1304.60" y1="2180.85" x2="1316.80" y2="2180.85" stroke="#111" stroke-width="2.0" stroke-linecap="square"/>
<line x1="1319.80" y1="2299.35" x2="1319.80" y2="2370.45" stroke="#111" stroke-width="2.0" stroke-linecap="square"/>
<line x1="1319.80" y1="2299.35" x2="1326.00" y2="2299.35" stroke="#111" stroke-width="2.0" stroke-linecap="square"/>
<line x1="1319.80" y1="2323.05" x2="1326.00" y2="2323.05" stroke="#111" stroke-width="2.0" stroke-linecap="square"/>
<line x1="1319.80" y1="2346.75" x2="1326.00" y2="2346.75" stroke="#111" stroke-width="2.0" stroke-linecap="square"/>
<line x1="1319.80" y1="2370.45" x2="1326.00" y2="2370.45" stroke="#111" stroke-width="2.0" stroke-linecap="square"/>
<line x1="1312.20" y1="2275.65" x2="1312.20" y2="2322.60" stroke="#111" stroke-width="2.0" stroke-linecap="square"/>
<line x1="1312.20" y1="2275.65" x2="1326.00" y2="2275.65" stroke="#111" stroke-width="2.0" stroke-linecap="square"/>
<line x1="1312.20" y1="2322.60" x2="1319.80" y2="2322.60" stroke="#111" stroke-width="2.0" stroke-linecap="square"/>
<line x1="1293.90" y1="2251.95" x2="1293.90" y2="2299.12" stroke="#111" stroke-width="2.0" stroke-linecap="square"/>
<line x1="1293.90" y1="2251.95" x2="1326.00" y2="2251.95" stroke="#111" stroke-width="2.0" stroke-linecap="square"/>
<line x1="1293.90" y1="2299.12" x2="1312.20" y2="2299.12" stroke="#111" stroke-width="2.0" stroke-linecap="square"/>
<line x1="1268.70" y1="2145.30" x2="1268.70" y2="2275.54" stroke="#111" stroke-width="2.0" stroke-linecap="square"/>
<line x1="1268.70" y1="2145.30" x2="1304.60" y2="2145.30" stroke="#111" stroke-width="2.0" stroke-linecap="square"/>
<line x1="1268.70" y1="2275.54" x2="1293.90" y2="2275.54" stroke="#111" stroke-width="2.0" stroke-linecap="square"/>
<line x1="1201.50" y1="2062.35" x2="1201.50" y2="2210.42" stroke="#111" stroke-width="2.0" stroke-linecap="square"/>
<line x1="1201.50" y1="2062.35" x2="1326.00" y2="2062.35" stroke="#111" stroke-width="2.0" stroke-linecap="square"/>
<line x1="1201.50" y1="2210.42" x2="1268.70" y2="2210.42" stroke="#111" stroke-width="2.0" stroke-linecap="square"/>
<line x1="1127.50" y1="2026.80" x2="1127.50" y2="2136.38" stroke="#111" stroke-width="2.0" stroke-linecap="square"/>
<line x1="1127.50" y1="2026.80" x2="1287.00" y2="2026.80" stroke="#111" stroke-width="2.0" stroke-linecap="square"/>
<line x1="1127.50" y1="2136.38" x2="1201.50" y2="2136.38" stroke="#111" stroke-width="2.0" stroke-linecap="square"/>
<line x1="957.80" y1="1623.66" x2="957.80" y2="2081.59" stroke="#111" stroke-width="2.0" stroke-linecap="square"/>
<line x1="957.80" y1="1623.66" x2="1178.00" y2="1623.66" stroke="#111" stroke-width="2.0" stroke-linecap="square"/>
<line x1="957.80" y1="2081.59" x2="1127.50" y2="2081.59" stroke="#8a8a8a" stroke-width="2.0" stroke-linecap="square"/>
<line x1="710.20" y1="1351.35" x2="710.20" y2="1852.63" stroke="#111" stroke-width="2.0" stroke-linecap="square"/>
<line x1="710.20" y1="1351.35" x2="1326.00" y2="1351.35" stroke="#111" stroke-width="2.0" stroke-linecap="square"/>
<line x1="710.20" y1="1852.63" x2="957.80" y2="1852.63" stroke="#111" stroke-width="2.0" stroke-linecap="square"/>
<line x1="644.80" y1="1601.99" x2="710.20" y2="1601.99" stroke="#8a8a8a" stroke-width="2.0" stroke-linecap="square"/>
<ellipse cx="1324.5" cy="261.2" rx="2.6" ry="1.8" fill="#000"/>
<ellipse cx="1324.5" cy="284.9" rx="2.6" ry="1.8" fill="#000"/>
<ellipse cx="1324.5" cy="308.6" rx="2.6" ry="1.8" fill="#000"/>
<ellipse cx="1324.5" cy="332.2" rx="2.6" ry="1.8" fill="#000"/>
<ellipse cx="1324.5" cy="355.9" rx="2.6" ry="1.8" fill="#000"/>
<ellipse cx="1324.5" cy="379.6" rx="2.6" ry="1.8" fill="#000"/>
<ellipse cx="1324.5" cy="403.4" rx="2.6" ry="1.8" fill="#000"/>
<ellipse cx="1324.5" cy="427.1" rx="2.6" ry="1.8" fill="#000"/>
<ellipse cx="1324.5" cy="450.8" rx="2.6" ry="1.8" fill="#000"/>
<ellipse cx="1324.5" cy="474.5" rx="2.6" ry="1.8" fill="#000"/>
<ellipse cx="1324.5" cy="498.1" rx="2.6" ry="1.8" fill="#000"/>
<ellipse cx="1324.5" cy="521.9" rx="2.6" ry="1.8" fill="#000"/>
<ellipse cx="1324.5" cy="545.5" rx="2.6" ry="1.8" fill="#000"/>
<ellipse cx="1324.5" cy="569.2" rx="2.6" ry="1.8" fill="#000"/>
<ellipse cx="1324.5" cy="593.0" rx="2.6" ry="1.8" fill="#000"/>
<ellipse cx="1324.5" cy="616.6" rx="2.6" ry="1.8" fill="#000"/>
<ellipse cx="1324.5" cy="640.4" rx="2.6" ry="1.8" fill="#000"/>
<ellipse cx="1324.5" cy="664.0" rx="2.6" ry="1.8" fill="#000"/>
<ellipse cx="1324.5" cy="687.8" rx="2.6" ry="1.8" fill="#000"/>
<ellipse cx="1324.5" cy="711.5" rx="2.6" ry="1.8" fill="#000"/>
<ellipse cx="1324.5" cy="735.1" rx="2.6" ry="1.8" fill="#000"/>
<ellipse cx="1324.5" cy="758.9" rx="2.6" ry="1.8" fill="#000"/>
<ellipse cx="1324.5" cy="782.5" rx="2.6" ry="1.8" fill="#000"/>
<ellipse cx="1324.5" cy="806.2" rx="2.6" ry="1.8" fill="#000"/>
<ellipse cx="1324.5" cy="830.0" rx="2.6" ry="1.8" fill="#000"/>
<ellipse cx="1324.5" cy="853.7" rx="2.6" ry="1.8" fill="#000"/>
<ellipse cx="1324.5" cy="877.3" rx="2.6" ry="1.8" fill="#000"/>
<ellipse cx="1324.5" cy="901.0" rx="2.6" ry="1.8" fill="#000"/>
<ellipse cx="1324.5" cy="924.8" rx="2.6" ry="1.8" fill="#000"/>
<ellipse cx="1324.5" cy="948.5" rx="2.6" ry="1.8" fill="#000"/>
<ellipse cx="1324.5" cy="972.2" rx="2.6" ry="1.8" fill="#000"/>
<ellipse cx="1324.5" cy="995.8" rx="2.6" ry="1.8" fill="#000"/>
<ellipse cx="1324.5" cy="1019.5" rx="2.6" ry="1.8" fill="#000"/>
<ellipse cx="1324.5" cy="1043.2" rx="2.6" ry="1.8" fill="#000"/>
<ellipse cx="1324.5" cy="1067.0" rx="2.6" ry="1.8" fill="#000"/>
<ellipse cx="1324.5" cy="1090.7" rx="2.6" ry="1.8" fill="#000"/>
<ellipse cx="1324.5" cy="1114.3" rx="2.6" ry="1.8" fill="#000"/>
<ellipse cx="1324.5" cy="1138.0" rx="2.6" ry="1.8" fill="#000"/>
<ellipse cx="1324.5" cy="1161.8" rx="2.6" ry="1.8" fill="#000"/>
<ellipse cx="1324.5" cy="1185.5" rx="2.6" ry="1.8" fill="#000"/>
<ellipse cx="1324.5" cy="1209.2" rx="2.6" ry="1.8" fill="#000"/>
<ellipse cx="1324.5" cy="1232.8" rx="2.6" ry="1.8" fill="#000"/>
<ellipse cx="1324.5" cy="1256.5" rx="2.6" ry="1.8" fill="#000"/>
<ellipse cx="1324.5" cy="1280.2" rx="2.6" ry="1.8" fill="#000"/>
<ellipse cx="1324.5" cy="1303.9" rx="2.6" ry="1.8" fill="#000"/>
<ellipse cx="1324.5" cy="1327.6" rx="2.6" ry="1.8" fill="#000"/>
<ellipse cx="1324.5" cy="1351.3" rx="2.6" ry="1.8" fill="#000"/>
<ellipse cx="1324.5" cy="1375.0" rx="2.6" ry="1.8" fill="#000"/>
<ellipse cx="1324.5" cy="1398.8" rx="2.6" ry="1.8" fill="#000"/>
<ellipse cx="1324.5" cy="1422.4" rx="2.6" ry="1.8" fill="#000"/>
<ellipse cx="1324.5" cy="1446.1" rx="2.6" ry="1.8" fill="#000"/>
<ellipse cx="1324.5" cy="1469.8" rx="2.6" ry="1.8" fill="#000"/>
<ellipse cx="1324.5" cy="1493.5" rx="2.6" ry="1.8" fill="#000"/>
<ellipse cx="1324.5" cy="1517.2" rx="2.6" ry="1.8" fill="#000"/>
<ellipse cx="1324.5" cy="1540.9" rx="2.6" ry="1.8" fill="#000"/>
<ellipse cx="1324.5" cy="1564.6" rx="2.6" ry="1.8" fill="#000"/>
<ellipse cx="1324.5" cy="1588.3" rx="2.6" ry="1.8" fill="#000"/>
<ellipse cx="1324.5" cy="1612.0" rx="2.6" ry="1.8" fill="#000"/>
<ellipse cx="1324.5" cy="1635.8" rx="2.6" ry="1.8" fill="#000"/>
<ellipse cx="1324.5" cy="1659.4" rx="2.6" ry="1.8" fill="#000"/>
<ellipse cx="1324.5" cy="1683.1" rx="2.6" ry="1.8" fill="#000"/>
<ellipse cx="1324.5" cy="1706.8" rx="2.6" ry="1.8" fill="#000"/>
<ellipse cx="1324.5" cy="1730.5" rx="2.6" ry="1.8" fill="#000"/>
<ellipse cx="1324.5" cy="1754.2" rx="2.6" ry="1.8" fill="#000"/>
<ellipse cx="1324.5" cy="1777.9" rx="2.6" ry="1.8" fill="#000"/>
<ellipse cx="1324.5" cy="1801.6" rx="2.6" ry="1.8" fill="#000"/>
<ellipse cx="1324.5" cy="1825.3" rx="2.6" ry="1.8" fill="#000"/>
<ellipse cx="1324.5" cy="1849.0" rx="2.6" ry="1.8" fill="#000"/>
<ellipse cx="1324.5" cy="1872.8" rx="2.6" ry="1.8" fill="#000"/>
<ellipse cx="1324.5" cy="1896.4" rx="2.6" ry="1.8" fill="#000"/>
<ellipse cx="1324.5" cy="1920.1" rx="2.6" ry="1.8" fill="#000"/>
<ellipse cx="1324.5" cy="1943.8" rx="2.6" ry="1.8" fill="#000"/>
<ellipse cx="1324.5" cy="1967.5" rx="2.6" ry="1.8" fill="#000"/>
<ellipse cx="1324.5" cy="1991.2" rx="2.6" ry="1.8" fill="#000"/>
<ellipse cx="1324.5" cy="2014.9" rx="2.6" ry="1.8" fill="#000"/>
<ellipse cx="1324.5" cy="2038.6" rx="2.6" ry="1.8" fill="#000"/>
<ellipse cx="1324.5" cy="2062.3" rx="2.6" ry="1.8" fill="#000"/>
<ellipse cx="1324.5" cy="2086.1" rx="2.6" ry="1.8" fill="#000"/>
<ellipse cx="1324.5" cy="2109.8" rx="2.6" ry="1.8" fill="#000"/>
<ellipse cx="1324.5" cy="2133.4" rx="2.6" ry="1.8" fill="#000"/>
<ellipse cx="1324.5" cy="2157.2" rx="2.6" ry="1.8" fill="#000"/>
<ellipse cx="1324.5" cy="2180.8" rx="2.6" ry="1.8" fill="#000"/>
<ellipse cx="1324.5" cy="2204.6" rx="2.6" ry="1.8" fill="#000"/>
<ellipse cx="1324.5" cy="2228.2" rx="2.6" ry="1.8" fill="#000"/>
<ellipse cx="1324.5" cy="2251.9" rx="2.6" ry="1.8" fill="#000"/>
<ellipse cx="1324.5" cy="2275.7" rx="2.6" ry="1.8" fill="#000"/>
<ellipse cx="1324.5" cy="2299.3" rx="2.6" ry="1.8" fill="#000"/>
<ellipse cx="1324.5" cy="2323.1" rx="2.6" ry="1.8" fill="#000"/>
<ellipse cx="1324.5" cy="2346.8" rx="2.6" ry="1.8" fill="#000"/>
<ellipse cx="1324.5" cy="2370.5" rx="2.6" ry="1.8" fill="#000"/>
<rect x="1517.60" y="249.30" width="32.60" height="24.30" fill="#d80000" shape-rendering="crispEdges"/>
<rect x="1549.60" y="249.30" width="34.50" height="24.30" fill="#d40000" shape-rendering="crispEdges"/>
<rect x="1583.50" y="249.30" width="34.20" height="24.30" fill="#d00000" shape-rendering="crispEdges"/>
<rect x="1617.10" y="249.30" width="34.20" height="24.30" fill="#00ff00" shape-rendering="crispEdges"/>
<rect x="1650.70" y="249.30" width="34.20" height="24.30" fill="#00ff00" shape-rendering="crispEdges"/>
<rect x="1684.30" y="249.30" width="34.20" height="24.30" fill="#00ff00" shape-rendering="crispEdges"/>
<rect x="1717.90" y="249.30" width="34.20" height="24.30" fill="#00c800" shape-rendering="crispEdges"/>
<rect x="1751.50" y="249.30" width="34.10" height="24.30" fill="#00c800" shape-rendering="crispEdges"/>
<rect x="1785.00" y="249.30" width="18.00" height="24.30" fill="#00c800" shape-rendering="crispEdges"/>
<rect x="1517.60" y="273.00" width="32.60" height="24.30" fill="#800000" shape-rendering="crispEdges"/>
<rect x="1549.60" y="273.00" width="34.50" height="24.30" fill="#700000" shape-rendering="crispEdges"/>
<rect x="1583.50" y="273.00" width="34.20" height="24.30" fill="#680000" shape-rendering="crispEdges"/>
<rect x="1617.10" y="273.00" width="34.20" height="24.30" fill="#00ff00" shape-rendering="crispEdges"/>
<rect x="1650.70" y="273.00" width="34.20" height="24.30" fill="#00ff00" shape-rendering="crispEdges"/>
<rect x="1684.30" y="273.00" width="34.20" height="24.30" fill="#00ff00" shape-rendering="crispEdges"/>
<rect x="1717.90" y="273.00" width="34.20" height="24.30" fill="#00ff00" shape-rendering="crispEdges"/>
<rect x="1751.50" y="273.00" width="34.10" height="24.30" fill="#00ff00" shape-rendering="crispEdges"/>
<rect x="1785.00" y="273.00" width="18.00" height="24.30" fill="#00ff00" shape-rendering="crispEdges"/>
<rect x="1517.60" y="296.70" width="32.60" height="24.30" fill="#d00000" shape-rendering="crispEdges"/>
<rect x="1549.60" y="296.70" width="34.50" height="24.30" fill="#c80000" shape-rendering="crispEdges"/>
<rect x="1583.50" y="296.70" width="34.20" height="24.30" fill="#c00000" shape-rendering="crispEdges"/>
<rect x="1617.10" y="296.70" width="34.20" height="24.30" fill="#00ff00" shape-rendering="crispEdges"/>
<rect x="1650.70" y="296.70" width="34.20" height="24.30" fill="#00ff00" shape-rendering="crispEdges"/>
<rect x="1684.30" y="296.70" width="34.20" height="24.30" fill="#00ff00" shape-rendering="crispEdges"/>
<rect x="1717.90" y="296.70" width="34.20" height="24.30" fill="#600000" shape-rendering="crispEdges"/>
<rect x="1751.50" y="296.70" width="34.10" height="24.30" fill="#500000" shape-rendering="crispEdges"/>
<rect x="1785.00" y="296.70" width="18.00" height="24.30" fill="#300000" shape-rendering="crispEdges"/>
<rect x="1517.60" y="320.40" width="32.60" height="24.30" fill="#ff0000" shape-rendering="crispEdges"/>
<rect x="1549.60" y="320.40" width="34.50" height="24.30" fill="#ff0000" shape-rendering="crispEdges"/>
<rect x="1583.50" y="320.40" width="34.20" height="24.30" fill="#ff0000" shape-rendering="crispEdges"/>
<rect x="1617.10" y="320.40" width="34.20" height="24.30" fill="#00ff00" shape-rendering="crispEdges"/>
<rect x="1650.70" y="320.40" width="34.20" height="24.30" fill="#00ff00" shape-rendering="crispEdges"/>
<rect x="1684.30" y="320.40" width="34.20" height="24.30" fill="#00ff00" shape-rendering="crispEdges"/>
<rect x="1717.90" y="320.40" width="34.20" height="24.30" fill="#400000" shape-rendering="crispEdges"/>
<rect x="1751.50" y="320.40" width="34.10" height="24.30" fill="#300000" shape-rendering="crispEdges"/>
<rect x="1785.00" y="320.40" width="18.00" height="24.30" fill="#200000" shape-rendering="crispEdges"/>
<rect x="1517.60" y="344.10" width="32.60" height="24.30" fill="#ff0000" shape-rendering="crispEdges"/>
<rect x="1549.60" y="344.10" width="34.50" height="24.30" fill="#ff0000" shape-rendering="crispEdges"/>
<rect x="1583.50" y="344.10" width="34.20" height="24.30" fill="#ff0000" shape-rendering="crispEdges"/>
<rect x="1617.10" y="344.10" width="34.20" height="24.30" fill="#00ff00" shape-rendering="crispEdges"/>
<rect x="1650.70" y="344.10" width="34.20" height="24.30" fill="#00ff00" shape-rendering="crispEdges"/>
<rect x="1684.30" y="344.10" width="34.20" height="24.30" fill="#00ff00" shape-rendering="crispEdges"/>
<rect x="1717.90" y="344.10" width="34.20" height="24.30" fill="#00a000" shape-rendering="crispEdges"/>
<rect x="1751.50" y="344.10" width="34.10" height="24.30" fill="#00a000" shape-rendering="crispEdges"/>
<rect x="1785.00" y="344.10" width="18.00" height="24.30" fill="#00a000" shape-rendering="crispEdges"/>
<rect x="1517.60" y="367.80" width="32.60" height="24.30" fill="#e00000" shape-rendering="crispEdges"/>
<rect x="1549.60" y="367.80" width="34.50" height="24.30" fill="#f00000" shape-rendering="crispEdges"/>
<rect x="1583.50" y="367.80" width="34.20" height="24.30" fill="#ff0000" shape-rendering="crispEdges"/>
<rect x="1617.10" y="367.80" width="34.20" height="24.30" fill="#00a000" shape-rendering="crispEdges"/>
<rect x="1650.70" y="367.80" width="34.20" height="24.30" fill="#009000" shape-rendering="crispEdges"/>
<rect x="1684.30" y="367.80" width="34.20" height="24.30" fill="#009000" shape-rendering="crispEdges"/>
<rect x="1717.90" y="367.80" width="34.20" height="24.30" fill="#00ff00" shape-rendering="crispEdges"/>
<rect x="1751.50" y="367.80" width="34.10" height="24.30" fill="#00ff00" shape-rendering="crispEdges"/>
<rect x="1785.00" y="367.80" width="18.00" height="24.30" fill="#00ff00" shape-rendering="crispEdges"/>
<rect x="1517.60" y="391.50" width="32.60" height="24.30" fill="#ff0000" shape-rendering="crispEdges"/>
<rect x="1549.60" y="391.50" width="34.50" height="24.30" fill="#c00000" shape-rendering="crispEdges"/>
<rect x="1583.50" y="391.50" width="34.20" height="24.30" fill="#500000" shape-rendering="crispEdges"/>
<rect x="1617.10" y="391.50" width="34.20" height="24.30" fill="#006000" shape-rendering="crispEdges"/>
<rect x="1650.70" y="391.50" width="34.20" height="24.30" fill="#00c000" shape-rendering="crispEdges"/>
<rect x="1684.30" y="391.50" width="34.20" height="24.30" fill="#00ff00" shape-rendering="crispEdges"/>
<rect x="1717.90" y="391.50" width="34.20" height="24.30" fill="#004000" shape-rendering="crispEdges"/>
<rect x="1751.50" y="391.50" width="34.10" height="24.30" fill="#00c000" shape-rendering="crispEdges"/>
<rect x="1785.00" y="391.50" width="18.00" height="24.30" fill="#00ff00" shape-rendering="crispEdges"/>
<rect x="1517.60" y="415.20" width="32.60" height="24.30" fill="#f00000" shape-rendering="crispEdges"/>
<rect x="1549.60" y="415.20" width="34.50" height="24.30" fill="#d00000" shape-rendering="crispEdges"/>
<rect x="1583.50" y="415.20" width="34.20" height="24.30" fill="#900000" shape-rendering="crispEdges"/>
<rect x="1617.10" y="415.20" width="34.20" height="24.30" fill="#00a000" shape-rendering="crispEdges"/>
<rect x="1650.70" y="415.20" width="34.20" height="24.30" fill="#00e000" shape-rendering="crispEdges"/>
<rect x="1684.30" y="415.20" width="34.20" height="24.30" fill="#00ff00" shape-rendering="crispEdges"/>
<rect x="1717.90" y="415.20" width="34.20" height="24.30" fill="#00a000" shape-rendering="crispEdges"/>
<rect x="1751.50" y="415.20" width="34.10" height="24.30" fill="#00d000" shape-rendering="crispEdges"/>
<rect x="1785.00" y="415.20" width="18.00" height="24.30" fill="#00ff00" shape-rendering="crispEdges"/>
<rect x="1517.60" y="438.90" width="32.60" height="24.30" fill="#00ff00" shape-rendering="crispEdges"/>
<rect x="1549.60" y="438.90" width="34.50" height="24.30" fill="#00ff00" shape-rendering="crispEdges"/>
<rect x="1583.50" y="438.90" width="34.20" height="24.30" fill="#00ff00" shape-rendering="crispEdges"/>
<rect x="1617.10" y="438.90" width="34.20" height="24.30" fill="#002000" shape-rendering="crispEdges"/>
<rect x="1650.70" y="438.90" width="34.20" height="24.30" fill="#003000" shape-rendering="crispEdges"/>
<rect x="1684.30" y="438.90" width="34.20" height="24.30" fill="#004000" shape-rendering="crispEdges"/>
<rect x="1717.90" y="438.90" width="34.20" height="24.30" fill="#009000" shape-rendering="crispEdges"/>
<rect x="1751.50" y="438.90" width="34.10" height="24.30" fill="#009000" shape-rendering="crispEdges"/>
<rect x="1785.00" y="438.90" width="18.00" height="24.30" fill="#00a000" shape-rendering="crispEdges"/>
<rect x="1517.60" y="462.60" width="32.60" height="24.30" fill="#400000" shape-rendering="crispEdges"/>
<rect x="1549.60" y="462.60" width="34.50" height="24.30" fill="#300000" shape-rendering="crispEdges"/>
<rect x="1583.50" y="462.60" width="34.20" height="24.30" fill="#100000" shape-rendering="crispEdges"/>
<rect x="1617.10" y="462.60" width="34.20" height="24.30" fill="#00ff00" shape-rendering="crispEdges"/>
<rect x="1650.70" y="462.60" width="34.20" height="24.30" fill="#00ff00" shape-rendering="crispEdges"/>
<rect x="1684.30" y="462.60" width="34.20" height="24.30" fill="#00ff00" shape-rendering="crispEdges"/>
<rect x="1717.90" y="462.60" width="34.20" height="24.30" fill="#e00000" shape-rendering="crispEdges"/>
<rect x="1751.50" y="462.60" width="34.10" height="24.30" fill="#d00000" shape-rendering="crispEdges"/>
<rect x="1785.00" y="462.60" width="18.00" height="24.30" fill="#b00000" shape-rendering="crispEdges"/>
<rect x="1517.60" y="486.30" width="32.60" height="24.30" fill="#004000" shape-rendering="crispEdges"/>
<rect x="1549.60" y="486.30" width="34.50" height="24.30" fill="#003800" shape-rendering="crispEdges"/>
<rect x="1583.50" y="486.30" width="34.20" height="24.30" fill="#003800" shape-rendering="crispEdges"/>
<rect x="1617.10" y="486.30" width="34.20" height="24.30" fill="#00ff00" shape-rendering="crispEdges"/>
<rect x="1650.70" y="486.30" width="34.20" height="24.30" fill="#00ff00" shape-rendering="crispEdges"/>
<rect x="1684.30" y="486.30" width="34.20" height="24.30" fill="#00ff00" shape-rendering="crispEdges"/>
<rect x="1717.90" y="486.30" width="34.20" height="24.30" fill="#300000" shape-rendering="crispEdges"/>
<rect x="1751.50" y="486.30" width="34.10" height="24.30" fill="#280000" shape-rendering="crispEdges"/>
<rect x="1785.00" y="486.30" width="18.00" height="24.30" fill="#200000" shape-rendering="crispEdges"/>
<rect x="1517.60" y="510.00" width="32.60" height="24.30" fill="#009000" shape-rendering="crispEdges"/>
<rect x="1549.60" y="510.00" width="34.50" height="24.30" fill="#00a000" shape-rendering="crispEdges"/>
<rect x="1583.50" y="510.00" width="34.20" height="24.30" fill="#00a800" shape-rendering="crispEdges"/>
<rect x="1617.10" y="510.00" width="34.20" height="24.30" fill="#00f000" shape-rendering="crispEdges"/>
<rect x="1650.70" y="510.00" width="34.20" height="24.30" fill="#00f800" shape-rendering="crispEdges"/>
<rect x="1684.30" y="510.00" width="34.20" height="24.30" fill="#00ff00" shape-rendering="crispEdges"/>
<rect x="1717.90" y="510.00" width="34.20" height="24.30" fill="#001000" shape-rendering="crispEdges"/>
<rect x="1751.50" y="510.00" width="34.10" height="24.30" fill="#003000" shape-rendering="crispEdges"/>
<rect x="1785.00" y="510.00" width="18.00" height="24.30" fill="#004800" shape-rendering="crispEdges"/>
<rect x="1517.60" y="533.70" width="32.60" height="24.30" fill="#00f000" shape-rendering="crispEdges"/>
<rect x="1549.60" y="533.70" width="34.50" height="24.30" fill="#00f000" shape-rendering="crispEdges"/>
<rect x="1583.50" y="533.70" width="34.20" height="24.30" fill="#00f000" shape-rendering="crispEdges"/>
<rect x="1617.10" y="533.70" width="34.20" height="24.30" fill="#00d000" shape-rendering="crispEdges"/>
<rect x="1650.70" y="533.70" width="34.20" height="24.30" fill="#00e000" shape-rendering="crispEdges"/>
<rect x="1684.30" y="533.70" width="34.20" height="24.30" fill="#00f000" shape-rendering="crispEdges"/>
<rect x="1717.90" y="533.70" width="34.20" height="24.30" fill="#ff0000" shape-rendering="crispEdges"/>
<rect x="1751.50" y="533.70" width="34.10" height="24.30" fill="#ff0000" shape-rendering="crispEdges"/>
<rect x="1785.00" y="533.70" width="18.00" height="24.30" fill="#f80000" shape-rendering="crispEdges"/>
<rect x="1517.60" y="557.40" width="32.60" height="24.30" fill="#00f000" shape-rendering="crispEdges"/>
<rect x="1549.60" y="557.40" width="34.50" height="24.30" fill="#00f000" shape-rendering="crispEdges"/>
<rect x="1583.50" y="557.40" width="34.20" height="24.30" fill="#00ff00" shape-rendering="crispEdges"/>
<rect x="1617.10" y="557.40" width="34.20" height="24.30" fill="#00f000" shape-rendering="crispEdges"/>
<rect x="1650.70" y="557.40" width="34.20" height="24.30" fill="#00f000" shape-rendering="crispEdges"/>
<rect x="1684.30" y="557.40" width="34.20" height="24.30" fill="#00f000" shape-rendering="crispEdges"/>
<rect x="1717.90" y="557.40" width="34.20" height="24.30" fill="#ff0000" shape-rendering="crispEdges"/>
<rect x="1751.50" y="557.40" width="34.10" height="24.30" fill="#ff0000" shape-rendering="crispEdges"/>
<rect x="1785.00" y="557.40" width="18.00" height="24.30" fill="#ff0000" shape-rendering="crispEdges"/>
<rect x="1517.60" y="581.10" width="32.60" height="24.30" fill="#00ff00" shape-rendering="crispEdges"/>
<rect x="1549.60" y="581.10" width="34.50" height="24.30" fill="#00ff00" shape-rendering="crispEdges"/>
<rect x="1583.50" y="581.10" width="34.20" height="24.30" fill="#00ff00" shape-rendering="crispEdges"/>
<rect x="1617.10" y="581.10" width="34.20" height="24.30" fill="#00c800" shape-rendering="crispEdges"/>
<rect x="1650.70" y="581.10" width="34.20" height="24.30" fill="#00d000" shape-rendering="crispEdges"/>
<rect x="1684.30" y="581.10" width="34.20" height="24.30" fill="#00e000" shape-rendering="crispEdges"/>
<rect x="1717.90" y="581.10" width="34.20" height="24.30" fill="#ff0000" shape-rendering="crispEdges"/>
<rect x="1751.50" y="581.10" width="34.10" height="24.30" fill="#ff0000" shape-rendering="crispEdges"/>
<rect x="1785.00" y="581.10" width="18.00" height="24.30" fill="#ff0000" shape-rendering="crispEdges"/>
<rect x="1517.60" y="604.80" width="32.60" height="24.30" fill="#00ff00" shape-rendering="crispEdges"/>
<rect x="1549.60" y="604.80" width="34.50" height="24.30" fill="#00ff00" shape-rendering="crispEdges"/>
<rect x="1583.50" y="604.80" width="34.20" height="24.30" fill="#00ff00" shape-rendering="crispEdges"/>
<rect x="1617.10" y="604.80" width="34.20" height="24.30" fill="#00c000" shape-rendering="crispEdges"/>
<rect x="1650.70" y="604.80" width="34.20" height="24.30" fill="#00c000" shape-rendering="crispEdges"/>
<rect x="1684.30" y="604.80" width="34.20" height="24.30" fill="#00c000" shape-rendering="crispEdges"/>
<rect x="1717.90" y="604.80" width="34.20" height="24.30" fill="#ff0000" shape-rendering="crispEdges"/>
<rect x="1751.50" y="604.80" width="34.10" height="24.30" fill="#ff0000" shape-rendering="crispEdges"/>
<rect x="1785.00" y="604.80" width="18.00" height="24.30" fill="#ff0000" shape-rendering="crispEdges"/>
<rect x="1517.60" y="628.50" width="32.60" height="24.30" fill="#00ff00" shape-rendering="crispEdges"/>
<rect x="1549.60" y="628.50" width="34.50" height="24.30" fill="#00ff00" shape-rendering="crispEdges"/>
<rect x="1583.50" y="628.50" width="34.20" height="24.30" fill="#00ff00" shape-rendering="crispEdges"/>
<rect x="1617.10" y="628.50" width="34.20" height="24.30" fill="#00c000" shape-rendering="crispEdges"/>
<rect x="1650.70" y="628.50" width="34.20" height="24.30" fill="#00c000" shape-rendering="crispEdges"/>
<rect x="1684.30" y="628.50" width="34.20" height="24.30" fill="#00c000" shape-rendering="crispEdges"/>
<rect x="1717.90" y="628.50" width="34.20" height="24.30" fill="#ff0000" shape-rendering="crispEdges"/>
<rect x="1751.50" y="628.50" width="34.10" height="24.30" fill="#ff0000" shape-rendering="crispEdges"/>
<rect x="1785.00" y="628.50" width="18.00" height="24.30" fill="#ff0000" shape-rendering="crispEdges"/>
<rect x="1517.60" y="652.20" width="32.60" height="24.30" fill="#00ff00" shape-rendering="crispEdges"/>
<rect x="1549.60" y="652.20" width="34.50" height="24.30" fill="#00ff00" shape-rendering="crispEdges"/>
<rect x="1583.50" y="652.20" width="34.20" height="24.30" fill="#00ff00" shape-rendering="crispEdges"/>
<rect x="1617.10" y="652.20" width="34.20" height="24.30" fill="#100000" shape-rendering="crispEdges"/>
<rect x="1650.70" y="652.20" width="34.20" height="24.30" fill="#080000" shape-rendering="crispEdges"/>
<rect x="1684.30" y="652.20" width="34.20" height="24.30" fill="#000000" shape-rendering="crispEdges"/>
<rect x="1717.90" y="652.20" width="34.20" height="24.30" fill="#ff0000" shape-rendering="crispEdges"/>
<rect x="1751.50" y="652.20" width="34.10" height="24.30" fill="#ff0000" shape-rendering="crispEdges"/>
<rect x="1785.00" y="652.20" width="18.00" height="24.30" fill="#ff0000" shape-rendering="crispEdges"/>
<rect x="1517.60" y="675.90" width="32.60" height="24.30" fill="#00ff00" shape-rendering="crispEdges"/>
<rect x="1549.60" y="675.90" width="34.50" height="24.30" fill="#00f000" shape-rendering="crispEdges"/>
<rect x="1583.50" y="675.90" width="34.20" height="24.30" fill="#00d800" shape-rendering="crispEdges"/>
<rect x="1617.10" y="675.90" width="34.20" height="24.30" fill="#006000" shape-rendering="crispEdges"/>
<rect x="1650.70" y="675.90" width="34.20" height="24.30" fill="#004000" shape-rendering="crispEdges"/>
<rect x="1684.30" y="675.90" width="34.20" height="24.30" fill="#002000" shape-rendering="crispEdges"/>
<rect x="1717.90" y="675.90" width="34.20" height="24.30" fill="#c00000" shape-rendering="crispEdges"/>
<rect x="1751.50" y="675.90" width="34.10" height="24.30" fill="#e00000" shape-rendering="crispEdges"/>
<rect x="1785.00" y="675.90" width="18.00" height="24.30" fill="#f00000" shape-rendering="crispEdges"/>
<rect x="1517.60" y="699.60" width="32.60" height="24.30" fill="#300000" shape-rendering="crispEdges"/>
<rect x="1549.60" y="699.60" width="34.50" height="24.30" fill="#200000" shape-rendering="crispEdges"/>
<rect x="1583.50" y="699.60" width="34.20" height="24.30" fill="#100000" shape-rendering="crispEdges"/>
<rect x="1617.10" y="699.60" width="34.20" height="24.30" fill="#ff0000" shape-rendering="crispEdges"/>
<rect x="1650.70" y="699.60" width="34.20" height="24.30" fill="#f00000" shape-rendering="crispEdges"/>
<rect x="1684.30" y="699.60" width="34.20" height="24.30" fill="#e00000" shape-rendering="crispEdges"/>
<rect x="1717.90" y="699.60" width="34.20" height="24.30" fill="#e00000" shape-rendering="crispEdges"/>
<rect x="1751.50" y="699.60" width="34.10" height="24.30" fill="#c00000" shape-rendering="crispEdges"/>
<rect x="1785.00" y="699.60" width="18.00" height="24.30" fill="#a00000" shape-rendering="crispEdges"/>
<rect x="1517.60" y="723.30" width="32.60" height="24.30" fill="#00ff00" shape-rendering="crispEdges"/>
<rect x="1549.60" y="723.30" width="34.50" height="24.30" fill="#00ff00" shape-rendering="crispEdges"/>
<rect x="1583.50" y="723.30" width="34.20" height="24.30" fill="#00ff00" shape-rendering="crispEdges"/>
<rect x="1617.10" y="723.30" width="34.20" height="24.30" fill="#ff0000" shape-rendering="crispEdges"/>
<rect x="1650.70" y="723.30" width="34.20" height="24.30" fill="#ff0000" shape-rendering="crispEdges"/>
<rect x="1684.30" y="723.30" width="34.20" height="24.30" fill="#ff0000" shape-rendering="crispEdges"/>
<rect x="1717.90" y="723.30" width="34.20" height="24.30" fill="#00e000" shape-rendering="crispEdges"/>
<rect x="1751.50" y="723.30" width="34.10" height="24.30" fill="#00e000" shape-rendering="crispEdges"/>
<rect x="1785.00" y="723.30" width="18.00" height="24.30" fill="#00e000" shape-rendering="crispEdges"/>
<rect x="1517.60" y="747.00" width="32.60" height="24.30" fill="#00f000" shape-rendering="crispEdges"/>
<rect x="1549.60" y="747.00" width="34.50" height="24.30" fill="#00f000" shape-rendering="crispEdges"/>
<rect x="1583.50" y="747.00" width="34.20" height="24.30" fill="#00f000" shape-rendering="crispEdges"/>
<rect x="1617.10" y="747.00" width="34.20" height="24.30" fill="#ff0000" shape-rendering="crispEdges"/>
<rect x="1650.70" y="747.00" width="34.20" height="24.30" fill="#f80000" shape-rendering="crispEdges"/>
<rect x="1684.30" y="747.00" width="34.20" height="24.30" fill="#e80000" shape-rendering="crispEdges"/>
<rect x="1717.90" y="747.00" width="34.20" height="24.30" fill="#002000" shape-rendering="crispEdges"/>
<rect x="1751.50" y="747.00" width="34.10" height="24.30" fill="#003000" shape-rendering="crispEdges"/>
<rect x="1785.00" y="747.00" width="18.00" height="24.30" fill="#005000" shape-rendering="crispEdges"/>
<rect x="1517.60" y="770.70" width="32.60" height="24.30" fill="#00ff00" shape-rendering="crispEdges"/>
<rect x="1549.60" y="770.70" width="34.50" height="24.30" fill="#00ff00" shape-rendering="crispEdges"/>
<rect x="1583.50" y="770.70" width="34.20" height="24.30" fill="#00ff00" shape-rendering="crispEdges"/>
<rect x="1617.10" y="770.70" width="34.20" height="24.30" fill="#ff0000" shape-rendering="crispEdges"/>
<rect x="1650.70" y="770.70" width="34.20" height="24.30" fill="#ff0000" shape-rendering="crispEdges"/>
<rect x="1684.30" y="770.70" width="34.20" height="24.30" fill="#ff0000" shape-rendering="crispEdges"/>
<rect x="1717.90" y="770.70" width="34.20" height="24.30" fill="#008000" shape-rendering="crispEdges"/>
<rect x="1751.50" y="770.70" width="34.10" height="24.30" fill="#008800" shape-rendering="crispEdges"/>
<rect x="1785.00" y="770.70" width="18.00" height="24.30" fill="#009800" shape-rendering="crispEdges"/>
<rect x="1517.60" y="794.40" width="32.60" height="24.30" fill="#00a000" shape-rendering="crispEdges"/>
<rect x="1549.60" y="794.40" width="34.50" height="24.30" fill="#00a000" shape-rendering="crispEdges"/>
<rect x="1583.50" y="794.40" width="34.20" height="24.30" fill="#00a800" shape-rendering="crispEdges"/>
<rect x="1617.10" y="794.40" width="34.20" height="24.30" fill="#ff0000" shape-rendering="crispEdges"/>
<rect x="1650.70" y="794.40" width="34.20" height="24.30" fill="#f80000" shape-rendering="crispEdges"/>
<rect x="1684.30" y="794.40" width="34.20" height="24.30" fill="#e00000" shape-rendering="crispEdges"/>
<rect x="1717.90" y="794.40" width="34.20" height="24.30" fill="#600000" shape-rendering="crispEdges"/>
<rect x="1751.50" y="794.40" width="34.10" height="24.30" fill="#400000" shape-rendering="crispEdges"/>
<rect x="1785.00" y="794.40" width="18.00" height="24.30" fill="#200000" shape-rendering="crispEdges"/>
<rect x="1517.60" y="818.10" width="32.60" height="24.30" fill="#00ff00" shape-rendering="crispEdges"/>
<rect x="1549.60" y="818.10" width="34.50" height="24.30" fill="#00ff00" shape-rendering="crispEdges"/>
<rect x="1583.50" y="818.10" width="34.20" height="24.30" fill="#00ff00" shape-rendering="crispEdges"/>
<rect x="1617.10" y="818.10" width="34.20" height="24.30" fill="#ff0000" shape-rendering="crispEdges"/>
<rect x="1650.70" y="818.10" width="34.20" height="24.30" fill="#ff0000" shape-rendering="crispEdges"/>
<rect x="1684.30" y="818.10" width="34.20" height="24.30" fill="#ff0000" shape-rendering="crispEdges"/>
<rect x="1717.90" y="818.10" width="34.20" height="24.30" fill="#200000" shape-rendering="crispEdges"/>
<rect x="1751.50" y="818.10" width="34.10" height="24.30" fill="#200000" shape-rendering="crispEdges"/>
<rect x="1785.00" y="818.10" width="18.00" height="24.30" fill="#200000" shape-rendering="crispEdges"/>
<rect x="1517.60" y="841.80" width="32.60" height="24.30" fill="#00ff00" shape-rendering="crispEdges"/>
<rect x="1549.60" y="841.80" width="34.50" height="24.30" fill="#00ff00" shape-rendering="crispEdges"/>
<rect x="1583.50" y="841.80" width="34.20" height="24.30" fill="#00ff00" shape-rendering="crispEdges"/>
<rect x="1617.10" y="841.80" width="34.20" height="24.30" fill="#ff0000" shape-rendering="crispEdges"/>
<rect x="1650.70" y="841.80" width="34.20" height="24.30" fill="#ff0000" shape-rendering="crispEdges"/>
<rect x="1684.30" y="841.80" width="34.20" height="24.30" fill="#ff0000" shape-rendering="crispEdges"/>
<rect x="1717.90" y="841.80" width="34.20" height="24.30" fill="#200000" shape-rendering="crispEdges"/>
<rect x="1751.50" y="841.80" width="34.10" height="24.30" fill="#200000" shape-rendering="crispEdges"/>
<rect x="1785.00" y="841.80" width="18.00" height="24.30" fill="#180000" shape-rendering="crispEdges"/>
<rect x="1517.60" y="865.50" width="32.60" height="24.30" fill="#00ff00" shape-rendering="crispEdges"/>
<rect x="1549.60" y="865.50" width="34.50" height="24.30" fill="#00ff00" shape-rendering="crispEdges"/>
<rect x="1583.50" y="865.50" width="34.20" height="24.30" fill="#00ff00" shape-rendering="crispEdges"/>
<rect x="1617.10" y="865.50" width="34.20" height="24.30" fill="#ff0000" shape-rendering="crispEdges"/>
<rect x="1650.70" y="865.50" width="34.20" height="24.30" fill="#ff0000" shape-rendering="crispEdges"/>
<rect x="1684.30" y="865.50" width="34.20" height="24.30" fill="#ff0000" shape-rendering="crispEdges"/>
<rect x="1717.90" y="865.50" width="34.20" height="24.30" fill="#600000" shape-rendering="crispEdges"/>
<rect x="1751.50" y="865.50" width="34.10" height="24.30" fill="#580000" shape-rendering="crispEdges"/>
<rect x="1785.00" y="865.50" width="18.00" height="24.30" fill="#500000" shape-rendering="crispEdges"/>
<rect x="1517.60" y="889.20" width="32.60" height="24.30" fill="#00e800" shape-rendering="crispEdges"/>
<rect x="1549.60" y="889.20" width="34.50" height="24.30" fill="#00f000" shape-rendering="crispEdges"/>
<rect x="1583.50" y="889.20" width="34.20" height="24.30" fill="#00f800" shape-rendering="crispEdges"/>
<rect x="1617.10" y="889.20" width="34.20" height="24.30" fill="#e00000" shape-rendering="crispEdges"/>
<rect x="1650.70" y="889.20" width="34.20" height="24.30" fill="#d00000" shape-rendering="crispEdges"/>
<rect x="1684.30" y="889.20" width="34.20" height="24.30" fill="#c00000" shape-rendering="crispEdges"/>
<rect x="1717.90" y="889.20" width="34.20" height="24.30" fill="#ff0000" shape-rendering="crispEdges"/>
<rect x="1751.50" y="889.20" width="34.10" height="24.30" fill="#f80000" shape-rendering="crispEdges"/>
<rect x="1785.00" y="889.20" width="18.00" height="24.30" fill="#f00000" shape-rendering="crispEdges"/>
<rect x="1517.60" y="912.90" width="32.60" height="24.30" fill="#00ff00" shape-rendering="crispEdges"/>
<rect x="1549.60" y="912.90" width="34.50" height="24.30" fill="#00ff00" shape-rendering="crispEdges"/>
<rect x="1583.50" y="912.90" width="34.20" height="24.30" fill="#00ff00" shape-rendering="crispEdges"/>
<rect x="1617.10" y="912.90" width="34.20" height="24.30" fill="#ff0000" shape-rendering="crispEdges"/>
<rect x="1650.70" y="912.90" width="34.20" height="24.30" fill="#ff0000" shape-rendering="crispEdges"/>
<rect x="1684.30" y="912.90" width="34.20" height="24.30" fill="#ff0000" shape-rendering="crispEdges"/>
<rect x="1717.90" y="912.90" width="34.20" height="24.30" fill="#d00000" shape-rendering="crispEdges"/>
<rect x="1751.50" y="912.90" width="34.10" height="24.30" fill="#c00000" shape-rendering="crispEdges"/>
<rect x="1785.00" y="912.90" width="18.00" height="24.30" fill="#a00000" shape-rendering="crispEdges"/>
<rect x="1517.60" y="936.60" width="32.60" height="24.30" fill="#00ff00" shape-rendering="crispEdges"/>
<rect x="1549.60" y="936.60" width="34.50" height="24.30" fill="#00ff00" shape-rendering="crispEdges"/>
<rect x="1583.50" y="936.60" width="34.20" height="24.30" fill="#00ff00" shape-rendering="crispEdges"/>
<rect x="1617.10" y="936.60" width="34.20" height="24.30" fill="#ff0000" shape-rendering="crispEdges"/>
<rect x="1650.70" y="936.60" width="34.20" height="24.30" fill="#ff0000" shape-rendering="crispEdges"/>
<rect x="1684.30" y="936.60" width="34.20" height="24.30" fill="#ff0000" shape-rendering="crispEdges"/>
<rect x="1717.90" y="936.60" width="34.20" height="24.30" fill="#600000" shape-rendering="crispEdges"/>
<rect x="1751.50" y="936.60" width="34.10" height="24.30" fill="#500000" shape-rendering="crispEdges"/>
<rect x="1785.00" y="936.60" width="18.00" height="24.30" fill="#400000" shape-rendering="crispEdges"/>
<rect x="1517.60" y="960.30" width="32.60" height="24.30" fill="#00ff00" shape-rendering="crispEdges"/>
<rect x="1549.60" y="960.30" width="34.50" height="24.30" fill="#00ff00" shape-rendering="crispEdges"/>
<rect x="1583.50" y="960.30" width="34.20" height="24.30" fill="#00ff00" shape-rendering="crispEdges"/>
<rect x="1617.10" y="960.30" width="34.20" height="24.30" fill="#ff0000" shape-rendering="crispEdges"/>
<rect x="1650.70" y="960.30" width="34.20" height="24.30" fill="#ff0000" shape-rendering="crispEdges"/>
<rect x="1684.30" y="960.30" width="34.20" height="24.30" fill="#e80000" shape-rendering="crispEdges"/>
<rect x="1717.90" y="960.30" width="34.20" height="24.30" fill="#d00000" shape-rendering="crispEdges"/>
<rect x="1751.50" y="960.30" width="34.10" height="24.30" fill="#c00000" shape-rendering="crispEdges"/>
<rect x="1785.00" y="960.30" width="18.00" height="24.30" fill="#a00000" shape-rendering="crispEdges"/>
<rect x="1517.60" y="984.00" width="32.60" height="24.30" fill="#00ff00" shape-rendering="crispEdges"/>
<rect x="1549.60" y="984.00" width="34.50" height="24.30" fill="#00ff00" shape-rendering="crispEdges"/>
<rect x="1583.50" y="984.00" width="34.20" height="24.30" fill="#00ff00" shape-rendering="crispEdges"/>
<rect x="1617.10" y="984.00" width="34.20" height="24.30" fill="#400000" shape-rendering="crispEdges"/>
<rect x="1650.70" y="984.00" width="34.20" height="24.30" fill="#380000" shape-rendering="crispEdges"/>
<rect x="1684.30" y="984.00" width="34.20" height="24.30" fill="#200000" shape-rendering="crispEdges"/>
<rect x="1717.90" y="984.00" width="34.20" height="24.30" fill="#ff0000" shape-rendering="crispEdges"/>
<rect x="1751.50" y="984.00" width="34.10" height="24.30" fill="#ff0000" shape-rendering="crispEdges"/>
<rect x="1785.00" y="984.00" width="18.00" height="24.30" fill="#ff0000" shape-rendering="crispEdges"/>
<rect x="1517.60" y="1007.70" width="32.60" height="24.30" fill="#00e800" shape-rendering="crispEdges"/>
<rect x="1549.60" y="1007.70" width="34.50" height="24.30" fill="#00ff00" shape-rendering="crispEdges"/>
<rect x="1583.50" y="1007.70" width="34.20" height="24.30" fill="#00ff00" shape-rendering="crispEdges"/>
<rect x="1617.10" y="1007.70" width="34.20" height="24.30" fill="#100000" shape-rendering="crispEdges"/>
<rect x="1650.70" y="1007.70" width="34.20" height="24.30" fill="#100000" shape-rendering="crispEdges"/>
<rect x="1684.30" y="1007.70" width="34.20" height="24.30" fill="#000000" shape-rendering="crispEdges"/>
<rect x="1717.90" y="1007.70" width="34.20" height="24.30" fill="#ff0000" shape-rendering="crispEdges"/>
<rect x="1751.50" y="1007.70" width="34.10" height="24.30" fill="#ff0000" shape-rendering="crispEdges"/>
<rect x="1785.00" y="1007.70" width="18.00" height="24.30" fill="#ff0000" shape-rendering="crispEdges"/>
<rect x="1517.60" y="1031.40" width="32.60" height="24.30" fill="#00ff00" shape-rendering="crispEdges"/>
<rect x="1549.60" y="1031.40" width="34.50" height="24.30" fill="#00ff00" shape-rendering="crispEdges"/>
<rect x="1583.50" y="1031.40" width="34.20" height="24.30" fill="#00ff00" shape-rendering="crispEdges"/>
<rect x="1617.10" y="1031.40" width="34.20" height="24.30" fill="#600000" shape-rendering="crispEdges"/>
<rect x="1650.70" y="1031.40" width="34.20" height="24.30" fill="#580000" shape-rendering="crispEdges"/>
<rect x="1684.30" y="1031.40" width="34.20" height="24.30" fill="#400000" shape-rendering="crispEdges"/>
<rect x="1717.90" y="1031.40" width="34.20" height="24.30" fill="#ff0000" shape-rendering="crispEdges"/>
<rect x="1751.50" y="1031.40" width="34.10" height="24.30" fill="#ff0000" shape-rendering="crispEdges"/>
<rect x="1785.00" y="1031.40" width="18.00" height="24.30" fill="#ff0000" shape-rendering="crispEdges"/>
<rect x="1517.60" y="1055.10" width="32.60" height="24.30" fill="#00ff00" shape-rendering="crispEdges"/>
<rect x="1549.60" y="1055.10" width="34.50" height="24.30" fill="#00ff00" shape-rendering="crispEdges"/>
<rect x="1583.50" y="1055.10" width="34.20" height="24.30" fill="#00ff00" shape-rendering="crispEdges"/>
<rect x="1617.10" y="1055.10" width="34.20" height="24.30" fill="#600000" shape-rendering="crispEdges"/>
<rect x="1650.70" y="1055.10" width="34.20" height="24.30" fill="#580000" shape-rendering="crispEdges"/>
<rect x="1684.30" y="1055.10" width="34.20" height="24.30" fill="#400000" shape-rendering="crispEdges"/>
<rect x="1717.90" y="1055.10" width="34.20" height="24.30" fill="#ff0000" shape-rendering="crispEdges"/>
<rect x="1751.50" y="1055.10" width="34.10" height="24.30" fill="#ff0000" shape-rendering="crispEdges"/>
<rect x="1785.00" y="1055.10" width="18.00" height="24.30" fill="#ff0000" shape-rendering="crispEdges"/>
<rect x="1517.60" y="1078.80" width="32.60" height="24.30" fill="#00ff00" shape-rendering="crispEdges"/>
<rect x="1549.60" y="1078.80" width="34.50" height="24.30" fill="#00ff00" shape-rendering="crispEdges"/>
<rect x="1583.50" y="1078.80" width="34.20" height="24.30" fill="#00ff00" shape-rendering="crispEdges"/>
<rect x="1617.10" y="1078.80" width="34.20" height="24.30" fill="#ff0000" shape-rendering="crispEdges"/>
<rect x="1650.70" y="1078.80" width="34.20" height="24.30" fill="#ff0000" shape-rendering="crispEdges"/>
<rect x="1684.30" y="1078.80" width="34.20" height="24.30" fill="#ff0000" shape-rendering="crispEdges"/>
<rect x="1717.90" y="1078.80" width="34.20" height="24.30" fill="#c80000" shape-rendering="crispEdges"/>
<rect x="1751.50" y="1078.80" width="34.10" height="24.30" fill="#c00000" shape-rendering="crispEdges"/>
<rect x="1785.00" y="1078.80" width="18.00" height="24.30" fill="#b00000" shape-rendering="crispEdges"/>
<rect x="1517.60" y="1102.50" width="32.60" height="24.30" fill="#00ff00" shape-rendering="crispEdges"/>
<rect x="1549.60" y="1102.50" width="34.50" height="24.30" fill="#00ff00" shape-rendering="crispEdges"/>
<rect x="1583.50" y="1102.50" width="34.20" height="24.30" fill="#00ff00" shape-rendering="crispEdges"/>
<rect x="1617.10" y="1102.50" width="34.20" height="24.30" fill="#ff0000" shape-rendering="crispEdges"/>
<rect x="1650.70" y="1102.50" width="34.20" height="24.30" fill="#ff0000" shape-rendering="crispEdges"/>
<rect x="1684.30" y="1102.50" width="34.20" height="24.30" fill="#ff0000" shape-rendering="crispEdges"/>
<rect x="1717.90" y="1102.50" width="34.20" height="24.30" fill="#f00000" shape-rendering="crispEdges"/>
<rect x="1751.50" y="1102.50" width="34.10" height="24.30" fill="#f00000" shape-rendering="crispEdges"/>
<rect x="1785.00" y="1102.50" width="18.00" height="24.30" fill="#f00000" shape-rendering="crispEdges"/>
<rect x="1517.60" y="1126.20" width="32.60" height="24.30" fill="#00ff00" shape-rendering="crispEdges"/>
<rect x="1549.60" y="1126.20" width="34.50" height="24.30" fill="#00ff00" shape-rendering="crispEdges"/>
<rect x="1583.50" y="1126.20" width="34.20" height="24.30" fill="#00ff00" shape-rendering="crispEdges"/>
<rect x="1617.10" y="1126.20" width="34.20" height="24.30" fill="#ff0000" shape-rendering="crispEdges"/>
<rect x="1650.70" y="1126.20" width="34.20" height="24.30" fill="#ff0000" shape-rendering="crispEdges"/>
<rect x="1684.30" y="1126.20" width="34.20" height="24.30" fill="#ff0000" shape-rendering="crispEdges"/>
<rect x="1717.90" y="1126.20" width="34.20" height="24.30" fill="#e00000" shape-rendering="crispEdges"/>
<rect x="1751.50" y="1126.20" width="34.10" height="24.30" fill="#d80000" shape-rendering="crispEdges"/>
<rect x="1785.00" y="1126.20" width="18.00" height="24.30" fill="#d00000" shape-rendering="crispEdges"/>
<rect x="1517.60" y="1149.90" width="32.60" height="24.30" fill="#00ff00" shape-rendering="crispEdges"/>
<rect x="1549.60" y="1149.90" width="34.50" height="24.30" fill="#00ff00" shape-rendering="crispEdges"/>
<rect x="1583.50" y="1149.90" width="34.20" height="24.30" fill="#00ff00" shape-rendering="crispEdges"/>
<rect x="1617.10" y="1149.90" width="34.20" height="24.30" fill="#380000" shape-rendering="crispEdges"/>
<rect x="1650.70" y="1149.90" width="34.20" height="24.30" fill="#300000" shape-rendering="crispEdges"/>
<rect x="1684.30" y="1149.90" width="34.20" height="24.30" fill="#300000" shape-rendering="crispEdges"/>
<rect x="1717.90" y="1149.90" width="34.20" height="24.30" fill="#ff0000" shape-rendering="crispEdges"/>
<rect x="1751.50" y="1149.90" width="34.10" height="24.30" fill="#ff0000" shape-rendering="crispEdges"/>
<rect x="1785.00" y="1149.90" width="18.00" height="24.30" fill="#ff0000" shape-rendering="crispEdges"/>
<rect x="1517.60" y="1173.60" width="32.60" height="24.30" fill="#00ff00" shape-rendering="crispEdges"/>
<rect x="1549.60" y="1173.60" width="34.50" height="24.30" fill="#00ff00" shape-rendering="crispEdges"/>
<rect x="1583.50" y="1173.60" width="34.20" height="24.30" fill="#00ff00" shape-rendering="crispEdges"/>
<rect x="1617.10" y="1173.60" width="34.20" height="24.30" fill="#500000" shape-rendering="crispEdges"/>
<rect x="1650.70" y="1173.60" width="34.20" height="24.30" fill="#480000" shape-rendering="crispEdges"/>
<rect x="1684.30" y="1173.60" width="34.20" height="24.30" fill="#300000" shape-rendering="crispEdges"/>
<rect x="1717.90" y="1173.60" width="34.20" height="24.30" fill="#ff0000" shape-rendering="crispEdges"/>
<rect x="1751.50" y="1173.60" width="34.10" height="24.30" fill="#ff0000" shape-rendering="crispEdges"/>
<rect x="1785.00" y="1173.60" width="18.00" height="24.30" fill="#ff0000" shape-rendering="crispEdges"/>
<rect x="1517.60" y="1197.30" width="32.60" height="24.30" fill="#00ff00" shape-rendering="crispEdges"/>
<rect x="1549.60" y="1197.30" width="34.50" height="24.30" fill="#00ff00" shape-rendering="crispEdges"/>
<rect x="1583.50" y="1197.30" width="34.20" height="24.30" fill="#00ff00" shape-rendering="crispEdges"/>
<rect x="1617.10" y="1197.30" width="34.20" height="24.30" fill="#500000" shape-rendering="crispEdges"/>
<rect x="1650.70" y="1197.30" width="34.20" height="24.30" fill="#400000" shape-rendering="crispEdges"/>
<rect x="1684.30" y="1197.30" width="34.20" height="24.30" fill="#300000" shape-rendering="crispEdges"/>
<rect x="1717.90" y="1197.30" width="34.20" height="24.30" fill="#ff0000" shape-rendering="crispEdges"/>
<rect x="1751.50" y="1197.30" width="34.10" height="24.30" fill="#ff0000" shape-rendering="crispEdges"/>
<rect x="1785.00" y="1197.30" width="18.00" height="24.30" fill="#ff0000" shape-rendering="crispEdges"/>
<rect x="1517.60" y="1221.00" width="32.60" height="24.30" fill="#00ff00" shape-rendering="crispEdges"/>
<rect x="1549.60" y="1221.00" width="34.50" height="24.30" fill="#00ff00" shape-rendering="crispEdges"/>
<rect x="1583.50" y="1221.00" width="34.20" height="24.30" fill="#00ff00" shape-rendering="crispEdges"/>
<rect x="1617.10" y="1221.00" width="34.20" height="24.30" fill="#800000" shape-rendering="crispEdges"/>
<rect x="1650.70" y="1221.00" width="34.20" height="24.30" fill="#780000" shape-rendering="crispEdges"/>
<rect x="1684.30" y="1221.00" width="34.20" height="24.30" fill="#680000" shape-rendering="crispEdges"/>
<rect x="1717.90" y="1221.00" width="34.20" height="24.30" fill="#ff0000" shape-rendering="crispEdges"/>
<rect x="1751.50" y="1221.00" width="34.10" height="24.30" fill="#ff0000" shape-rendering="crispEdges"/>
<rect x="1785.00" y="1221.00" width="18.00" height="24.30" fill="#ff0000" shape-rendering="crispEdges"/>
<rect x="1517.60" y="1244.70" width="32.60" height="24.30" fill="#00d800" shape-rendering="crispEdges"/>
<rect x="1549.60" y="1244.70" width="34.50" height="24.30" fill="#00e000" shape-rendering="crispEdges"/>
<rect x="1583.50" y="1244.70" width="34.20" height="24.30" fill="#00e800" shape-rendering="crispEdges"/>
<rect x="1617.10" y="1244.70" width="34.20" height="24.30" fill="#800000" shape-rendering="crispEdges"/>
<rect x="1650.70" y="1244.70" width="34.20" height="24.30" fill="#600000" shape-rendering="crispEdges"/>
<rect x="1684.30" y="1244.70" width="34.20" height="24.30" fill="#400000" shape-rendering="crispEdges"/>
<rect x="1717.90" y="1244.70" width="34.20" height="24.30" fill="#ff0000" shape-rendering="crispEdges"/>
<rect x="1751.50" y="1244.70" width="34.10" height="24.30" fill="#f80000" shape-rendering="crispEdges"/>
<rect x="1785.00" y="1244.70" width="18.00" height="24.30" fill="#e80000" shape-rendering="crispEdges"/>
<rect x="1517.60" y="1268.40" width="32.60" height="24.30" fill="#00ff00" shape-rendering="crispEdges"/>
<rect x="1549.60" y="1268.40" width="34.50" height="24.30" fill="#00ff00" shape-rendering="crispEdges"/>
<rect x="1583.50" y="1268.40" width="34.20" height="24.30" fill="#00ff00" shape-rendering="crispEdges"/>
<rect x="1617.10" y="1268.40" width="34.20" height="24.30" fill="#c00000" shape-rendering="crispEdges"/>
<rect x="1650.70" y="1268.40" width="34.20" height="24.30" fill="#b80000" shape-rendering="crispEdges"/>
<rect x="1684.30" y="1268.40" width="34.20" height="24.30" fill="#a00000" shape-rendering="crispEdges"/>
<rect x="1717.90" y="1268.40" width="34.20" height="24.30" fill="#ff0000" shape-rendering="crispEdges"/>
<rect x="1751.50" y="1268.40" width="34.10" height="24.30" fill="#ff0000" shape-rendering="crispEdges"/>
<rect x="1785.00" y="1268.40" width="18.00" height="24.30" fill="#ff0000" shape-rendering="crispEdges"/>
<rect x="1517.60" y="1292.10" width="32.60" height="24.30" fill="#00ff00" shape-rendering="crispEdges"/>
<rect x="1549.60" y="1292.10" width="34.50" height="24.30" fill="#00ff00" shape-rendering="crispEdges"/>
<rect x="1583.50" y="1292.10" width="34.20" height="24.30" fill="#00ff00" shape-rendering="crispEdges"/>
<rect x="1617.10" y="1292.10" width="34.20" height="24.30" fill="#c80000" shape-rendering="crispEdges"/>
<rect x="1650.70" y="1292.10" width="34.20" height="24.30" fill="#c80000" shape-rendering="crispEdges"/>
<rect x="1684.30" y="1292.10" width="34.20" height="24.30" fill="#c00000" shape-rendering="crispEdges"/>
<rect x="1717.90" y="1292.10" width="34.20" height="24.30" fill="#ff0000" shape-rendering="crispEdges"/>
<rect x="1751.50" y="1292.10" width="34.10" height="24.30" fill="#ff0000" shape-rendering="crispEdges"/>
<rect x="1785.00" y="1292.10" width="18.00" height="24.30" fill="#ff0000" shape-rendering="crispEdges"/>
<rect x="1517.60" y="1315.80" width="32.60" height="24.30" fill="#00ff00" shape-rendering="crispEdges"/>
<rect x="1549.60" y="1315.80" width="34.50" height="24.30" fill="#00ff00" shape-rendering="crispEdges"/>
<rect x="1583.50" y="1315.80" width="34.20" height="24.30" fill="#00ff00" shape-rendering="crispEdges"/>
<rect x="1617.10" y="1315.80" width="34.20" height="24.30" fill="#d00000" shape-rendering="crispEdges"/>
<rect x="1650.70" y="1315.80" width="34.20" height="24.30" fill="#d00000" shape-rendering="crispEdges"/>
<rect x="1684.30" y="1315.80" width="34.20" height="24.30" fill="#c80000" shape-rendering="crispEdges"/>
<rect x="1717.90" y="1315.80" width="34.20" height="24.30" fill="#ff0000" shape-rendering="crispEdges"/>
<rect x="1751.50" y="1315.80" width="34.10" height="24.30" fill="#ff0000" shape-rendering="crispEdges"/>
<rect x="1785.00" y="1315.80" width="18.00" height="24.30" fill="#ff0000" shape-rendering="crispEdges"/>
<rect x="1517.60" y="1339.50" width="32.60" height="24.30" fill="#ff0000" shape-rendering="crispEdges"/>
<rect x="1549.60" y="1339.50" width="34.50" height="24.30" fill="#ff0000" shape-rendering="crispEdges"/>
<rect x="1583.50" y="1339.50" width="34.20" height="24.30" fill="#ff0000" shape-rendering="crispEdges"/>
<rect x="1617.10" y="1339.50" width="34.20" height="24.30" fill="#001000" shape-rendering="crispEdges"/>
<rect x="1650.70" y="1339.50" width="34.20" height="24.30" fill="#002000" shape-rendering="crispEdges"/>
<rect x="1684.30" y="1339.50" width="34.20" height="24.30" fill="#002000" shape-rendering="crispEdges"/>
<rect x="1717.90" y="1339.50" width="34.20" height="24.30" fill="#600000" shape-rendering="crispEdges"/>
<rect x="1751.50" y="1339.50" width="34.10" height="24.30" fill="#580000" shape-rendering="crispEdges"/>
<rect x="1785.00" y="1339.50" width="18.00" height="24.30" fill="#500000" shape-rendering="crispEdges"/>
<rect x="1517.60" y="1363.20" width="32.60" height="24.30" fill="#009000" shape-rendering="crispEdges"/>
<rect x="1549.60" y="1363.20" width="34.50" height="24.30" fill="#009800" shape-rendering="crispEdges"/>
<rect x="1583.50" y="1363.20" width="34.20" height="24.30" fill="#00a000" shape-rendering="crispEdges"/>
<rect x="1617.10" y="1363.20" width="34.20" height="24.30" fill="#005000" shape-rendering="crispEdges"/>
<rect x="1650.70" y="1363.20" width="34.20" height="24.30" fill="#006000" shape-rendering="crispEdges"/>
<rect x="1684.30" y="1363.20" width="34.20" height="24.30" fill="#007000" shape-rendering="crispEdges"/>
<rect x="1717.90" y="1363.20" width="34.20" height="24.30" fill="#ff0000" shape-rendering="crispEdges"/>
<rect x="1751.50" y="1363.20" width="34.10" height="24.30" fill="#ff0000" shape-rendering="crispEdges"/>
<rect x="1785.00" y="1363.20" width="18.00" height="24.30" fill="#ff0000" shape-rendering="crispEdges"/>
<rect x="1517.60" y="1386.90" width="32.60" height="24.30" fill="#00b000" shape-rendering="crispEdges"/>
<rect x="1549.60" y="1386.90" width="34.50" height="24.30" fill="#00d000" shape-rendering="crispEdges"/>
<rect x="1583.50" y="1386.90" width="34.20" height="24.30" fill="#00d800" shape-rendering="crispEdges"/>
<rect x="1617.10" y="1386.90" width="34.20" height="24.30" fill="#002000" shape-rendering="crispEdges"/>
<rect x="1650.70" y="1386.90" width="34.20" height="24.30" fill="#004000" shape-rendering="crispEdges"/>
<rect x="1684.30" y="1386.90" width="34.20" height="24.30" fill="#007000" shape-rendering="crispEdges"/>
<rect x="1717.90" y="1386.90" width="34.20" height="24.30" fill="#ff0000" shape-rendering="crispEdges"/>
<rect x="1751.50" y="1386.90" width="34.10" height="24.30" fill="#f00000" shape-rendering="crispEdges"/>
<rect x="1785.00" y="1386.90" width="18.00" height="24.30" fill="#e00000" shape-rendering="crispEdges"/>
<rect x="1517.60" y="1410.60" width="32.60" height="24.30" fill="#004000" shape-rendering="crispEdges"/>
<rect x="1549.60" y="1410.60" width="34.50" height="24.30" fill="#005000" shape-rendering="crispEdges"/>
<rect x="1583.50" y="1410.60" width="34.20" height="24.30" fill="#005000" shape-rendering="crispEdges"/>
<rect x="1617.10" y="1410.60" width="34.20" height="24.30" fill="#300000" shape-rendering="crispEdges"/>
<rect x="1650.70" y="1410.60" width="34.20" height="24.30" fill="#200000" shape-rendering="crispEdges"/>
<rect x="1684.30" y="1410.60" width="34.20" height="24.30" fill="#100000" shape-rendering="crispEdges"/>
<rect x="1717.90" y="1410.60" width="34.20" height="24.30" fill="#ff0000" shape-rendering="crispEdges"/>
<rect x="1751.50" y="1410.60" width="34.10" height="24.30" fill="#ff0000" shape-rendering="crispEdges"/>
<rect x="1785.00" y="1410.60" width="18.00" height="24.30" fill="#ff0000" shape-rendering="crispEdges"/>
<rect x="1517.60" y="1434.30" width="32.60" height="24.30" fill="#00a000" shape-rendering="crispEdges"/>
<rect x="1549.60" y="1434.30" width="34.50" height="24.30" fill="#00a800" shape-rendering="crispEdges"/>
<rect x="1583.50" y="1434.30" width="34.20" height="24.30" fill="#00b000" shape-rendering="crispEdges"/>
<rect x="1617.10" y="1434.30" width="34.20" height="24.30" fill="#300000" shape-rendering="crispEdges"/>
<rect x="1650.70" y="1434.30" width="34.20" height="24.30" fill="#200000" shape-rendering="crispEdges"/>
<rect x="1684.30" y="1434.30" width="34.20" height="24.30" fill="#000000" shape-rendering="crispEdges"/>
<rect x="1717.90" y="1434.30" width="34.20" height="24.30" fill="#ff0000" shape-rendering="crispEdges"/>
<rect x="1751.50" y="1434.30" width="34.10" height="24.30" fill="#ff0000" shape-rendering="crispEdges"/>
<rect x="1785.00" y="1434.30" width="18.00" height="24.30" fill="#ff0000" shape-rendering="crispEdges"/>
<rect x="1517.60" y="1458.00" width="32.60" height="24.30" fill="#00c000" shape-rendering="crispEdges"/>
<rect x="1549.60" y="1458.00" width="34.50" height="24.30" fill="#00c000" shape-rendering="crispEdges"/>
<rect x="1583.50" y="1458.00" width="34.20" height="24.30" fill="#00c000" shape-rendering="crispEdges"/>
<rect x="1617.10" y="1458.00" width="34.20" height="24.30" fill="#300000" shape-rendering="crispEdges"/>
<rect x="1650.70" y="1458.00" width="34.20" height="24.30" fill="#280000" shape-rendering="crispEdges"/>
<rect x="1684.30" y="1458.00" width="34.20" height="24.30" fill="#080000" shape-rendering="crispEdges"/>
<rect x="1717.90" y="1458.00" width="34.20" height="24.30" fill="#ff0000" shape-rendering="crispEdges"/>
<rect x="1751.50" y="1458.00" width="34.10" height="24.30" fill="#ff0000" shape-rendering="crispEdges"/>
<rect x="1785.00" y="1458.00" width="18.00" height="24.30" fill="#ff0000" shape-rendering="crispEdges"/>
<rect x="1517.60" y="1481.70" width="32.60" height="24.30" fill="#00c000" shape-rendering="crispEdges"/>
<rect x="1549.60" y="1481.70" width="34.50" height="24.30" fill="#00c000" shape-rendering="crispEdges"/>
<rect x="1583.50" y="1481.70" width="34.20" height="24.30" fill="#00c000" shape-rendering="crispEdges"/>
<rect x="1617.10" y="1481.70" width="34.20" height="24.30" fill="#300000" shape-rendering="crispEdges"/>
<rect x="1650.70" y="1481.70" width="34.20" height="24.30" fill="#300000" shape-rendering="crispEdges"/>
<rect x="1684.30" y="1481.70" width="34.20" height="24.30" fill="#380000" shape-rendering="crispEdges"/>
<rect x="1717.90" y="1481.70" width="34.20" height="24.30" fill="#ff0000" shape-rendering="crispEdges"/>
<rect x="1751.50" y="1481.70" width="34.10" height="24.30" fill="#ff0000" shape-rendering="crispEdges"/>
<rect x="1785.00" y="1481.70" width="18.00" height="24.30" fill="#ff0000" shape-rendering="crispEdges"/>
<rect x="1517.60" y="1505.40" width="32.60" height="24.30" fill="#200000" shape-rendering="crispEdges"/>
<rect x="1549.60" y="1505.40" width="34.50" height="24.30" fill="#100000" shape-rendering="crispEdges"/>
<rect x="1583.50" y="1505.40" width="34.20" height="24.30" fill="#000000" shape-rendering="crispEdges"/>
<rect x="1617.10" y="1505.40" width="34.20" height="24.30" fill="#002000" shape-rendering="crispEdges"/>
<rect x="1650.70" y="1505.40" width="34.20" height="24.30" fill="#002800" shape-rendering="crispEdges"/>
<rect x="1684.30" y="1505.40" width="34.20" height="24.30" fill="#002000" shape-rendering="crispEdges"/>
<rect x="1717.90" y="1505.40" width="34.20" height="24.30" fill="#ff0000" shape-rendering="crispEdges"/>
<rect x="1751.50" y="1505.40" width="34.10" height="24.30" fill="#ff0000" shape-rendering="crispEdges"/>
<rect x="1785.00" y="1505.40" width="18.00" height="24.30" fill="#ff0000" shape-rendering="crispEdges"/>
<rect x="1517.60" y="1529.10" width="32.60" height="24.30" fill="#006000" shape-rendering="crispEdges"/>
<rect x="1549.60" y="1529.10" width="34.50" height="24.30" fill="#006800" shape-rendering="crispEdges"/>
<rect x="1583.50" y="1529.10" width="34.20" height="24.30" fill="#007000" shape-rendering="crispEdges"/>
<rect x="1617.10" y="1529.10" width="34.20" height="24.30" fill="#009000" shape-rendering="crispEdges"/>
<rect x="1650.70" y="1529.10" width="34.20" height="24.30" fill="#009800" shape-rendering="crispEdges"/>
<rect x="1684.30" y="1529.10" width="34.20" height="24.30" fill="#00a000" shape-rendering="crispEdges"/>
<rect x="1717.90" y="1529.10" width="34.20" height="24.30" fill="#ff0000" shape-rendering="crispEdges"/>
<rect x="1751.50" y="1529.10" width="34.10" height="24.30" fill="#ff0000" shape-rendering="crispEdges"/>
<rect x="1785.00" y="1529.10" width="18.00" height="24.30" fill="#ff0000" shape-rendering="crispEdges"/>
<rect x="1517.60" y="1552.80" width="32.60" height="24.30" fill="#005000" shape-rendering="crispEdges"/>
<rect x="1549.60" y="1552.80" width="34.50" height="24.30" fill="#005000" shape-rendering="crispEdges"/>
<rect x="1583.50" y="1552.80" width="34.20" height="24.30" fill="#005800" shape-rendering="crispEdges"/>
<rect x="1617.10" y="1552.80" width="34.20" height="24.30" fill="#00c000" shape-rendering="crispEdges"/>
<rect x="1650.70" y="1552.80" width="34.20" height="24.30" fill="#00c000" shape-rendering="crispEdges"/>
<rect x="1684.30" y="1552.80" width="34.20" height="24.30" fill="#00c000" shape-rendering="crispEdges"/>
<rect x="1717.90" y="1552.80" width="34.20" height="24.30" fill="#ff0000" shape-rendering="crispEdges"/>
<rect x="1751.50" y="1552.80" width="34.10" height="24.30" fill="#ff0000" shape-rendering="crispEdges"/>
<rect x="1785.00" y="1552.80" width="18.00" height="24.30" fill="#ff0000" shape-rendering="crispEdges"/>
<rect x="1517.60" y="1576.50" width="32.60" height="24.30" fill="#00ff00" shape-rendering="crispEdges"/>
<rect x="1549.60" y="1576.50" width="34.50" height="24.30" fill="#00ff00" shape-rendering="crispEdges"/>
<rect x="1583.50" y="1576.50" width="34.20" height="24.30" fill="#00ff00" shape-rendering="crispEdges"/>
<rect x="1617.10" y="1576.50" width="34.20" height="24.30" fill="#007000" shape-rendering="crispEdges"/>
<rect x="1650.70" y="1576.50" width="34.20" height="24.30" fill="#007000" shape-rendering="crispEdges"/>
<rect x="1684.30" y="1576.50" width="34.20" height="24.30" fill="#007800" shape-rendering="crispEdges"/>
<rect x="1717.90" y="1576.50" width="34.20" height="24.30" fill="#ff0000" shape-rendering="crispEdges"/>
<rect x="1751.50" y="1576.50" width="34.10" height="24.30" fill="#ff0000" shape-rendering="crispEdges"/>
<rect x="1785.00" y="1576.50" width="18.00" height="24.30" fill="#ff0000" shape-rendering="crispEdges"/>
<rect x="1517.60" y="1600.20" width="32.60" height="24.30" fill="#00ff00" shape-rendering="crispEdges"/>
<rect x="1549.60" y="1600.20" width="34.50" height="24.30" fill="#00ff00" shape-rendering="crispEdges"/>
<rect x="1583.50" y="1600.20" width="34.20" height="24.30" fill="#00ff00" shape-rendering="crispEdges"/>
<rect x="1617.10" y="1600.20" width="34.20" height="24.30" fill="#005000" shape-rendering="crispEdges"/>
<rect x="1650.70" y="1600.20" width="34.20" height="24.30" fill="#004800" shape-rendering="crispEdges"/>
<rect x="1684.30" y="1600.20" width="34.20" height="24.30" fill="#005000" shape-rendering="crispEdges"/>
<rect x="1717.90" y="1600.20" width="34.20" height="24.30" fill="#ff0000" shape-rendering="crispEdges"/>
<rect x="1751.50" y="1600.20" width="34.10" height="24.30" fill="#ff0000" shape-rendering="crispEdges"/>
<rect x="1785.00" y="1600.20" width="18.00" height="24.30" fill="#ff0000" shape-rendering="crispEdges"/>
<rect x="1517.60" y="1623.90" width="32.60" height="24.30" fill="#00b000" shape-rendering="crispEdges"/>
<rect x="1549.60" y="1623.90" width="34.50" height="24.30" fill="#00e000" shape-rendering="crispEdges"/>
<rect x="1583.50" y="1623.90" width="34.20" height="24.30" fill="#00f000" shape-rendering="crispEdges"/>
<rect x="1617.10" y="1623.90" width="34.20" height="24.30" fill="#000000" shape-rendering="crispEdges"/>
<rect x="1650.70" y="1623.90" width="34.20" height="24.30" fill="#003000" shape-rendering="crispEdges"/>
<rect x="1684.30" y="1623.90" width="34.20" height="24.30" fill="#006000" shape-rendering="crispEdges"/>
<rect x="1717.90" y="1623.90" width="34.20" height="24.30" fill="#ff0000" shape-rendering="crispEdges"/>
<rect x="1751.50" y="1623.90" width="34.10" height="24.30" fill="#ff0000" shape-rendering="crispEdges"/>
<rect x="1785.00" y="1623.90" width="18.00" height="24.30" fill="#d00000" shape-rendering="crispEdges"/>
<rect x="1517.60" y="1647.60" width="32.60" height="24.30" fill="#00ff00" shape-rendering="crispEdges"/>
<rect x="1549.60" y="1647.60" width="34.50" height="24.30" fill="#00ff00" shape-rendering="crispEdges"/>
<rect x="1583.50" y="1647.60" width="34.20" height="24.30" fill="#00ff00" shape-rendering="crispEdges"/>
<rect x="1617.10" y="1647.60" width="34.20" height="24.30" fill="#000800" shape-rendering="crispEdges"/>
<rect x="1650.70" y="1647.60" width="34.20" height="24.30" fill="#002000" shape-rendering="crispEdges"/>
<rect x="1684.30" y="1647.60" width="34.20" height="24.30" fill="#003800" shape-rendering="crispEdges"/>
<rect x="1717.90" y="1647.60" width="34.20" height="24.30" fill="#ff0000" shape-rendering="crispEdges"/>
<rect x="1751.50" y="1647.60" width="34.10" height="24.30" fill="#ff0000" shape-rendering="crispEdges"/>
<rect x="1785.00" y="1647.60" width="18.00" height="24.30" fill="#ff0000" shape-rendering="crispEdges"/>
<rect x="1517.60" y="1671.30" width="32.60" height="24.30" fill="#00f000" shape-rendering="crispEdges"/>
<rect x="1549.60" y="1671.30" width="34.50" height="24.30" fill="#00f000" shape-rendering="crispEdges"/>
<rect x="1583.50" y="1671.30" width="34.20" height="24.30" fill="#00f000" shape-rendering="crispEdges"/>
<rect x="1617.10" y="1671.30" width="34.20" height="24.30" fill="#00d000" shape-rendering="crispEdges"/>
<rect x="1650.70" y="1671.30" width="34.20" height="24.30" fill="#00d000" shape-rendering="crispEdges"/>
<rect x="1684.30" y="1671.30" width="34.20" height="24.30" fill="#00d000" shape-rendering="crispEdges"/>
<rect x="1717.90" y="1671.30" width="34.20" height="24.30" fill="#ff0000" shape-rendering="crispEdges"/>
<rect x="1751.50" y="1671.30" width="34.10" height="24.30" fill="#ff0000" shape-rendering="crispEdges"/>
<rect x="1785.00" y="1671.30" width="18.00" height="24.30" fill="#ff0000" shape-rendering="crispEdges"/>
<rect x="1517.60" y="1695.00" width="32.60" height="24.30" fill="#00ff00" shape-rendering="crispEdges"/>
<rect x="1549.60" y="1695.00" width="34.50" height="24.30" fill="#00ff00" shape-rendering="crispEdges"/>
<rect x="1583.50" y="1695.00" width="34.20" height="24.30" fill="#00ff00" shape-rendering="crispEdges"/>
<rect x="1617.10" y="1695.00" width="34.20" height="24.30" fill="#00b000" shape-rendering="crispEdges"/>
<rect x="1650.70" y="1695.00" width="34.20" height="24.30" fill="#00b000" shape-rendering="crispEdges"/>
<rect x="1684.30" y="1695.00" width="34.20" height="24.30" fill="#00b000" shape-rendering="crispEdges"/>
<rect x="1717.90" y="1695.00" width="34.20" height="24.30" fill="#ff0000" shape-rendering="crispEdges"/>
<rect x="1751.50" y="1695.00" width="34.10" height="24.30" fill="#ff0000" shape-rendering="crispEdges"/>
<rect x="1785.00" y="1695.00" width="18.00" height="24.30" fill="#ff0000" shape-rendering="crispEdges"/>
<rect x="1517.60" y="1718.70" width="32.60" height="24.30" fill="#00ff00" shape-rendering="crispEdges"/>
<rect x="1549.60" y="1718.70" width="34.50" height="24.30" fill="#00ff00" shape-rendering="crispEdges"/>
<rect x="1583.50" y="1718.70" width="34.20" height="24.30" fill="#00ff00" shape-rendering="crispEdges"/>
<rect x="1617.10" y="1718.70" width="34.20" height="24.30" fill="#009000" shape-rendering="crispEdges"/>
<rect x="1650.70" y="1718.70" width="34.20" height="24.30" fill="#009000" shape-rendering="crispEdges"/>
<rect x="1684.30" y="1718.70" width="34.20" height="24.30" fill="#00a000" shape-rendering="crispEdges"/>
<rect x="1717.90" y="1718.70" width="34.20" height="24.30" fill="#ff0000" shape-rendering="crispEdges"/>
<rect x="1751.50" y="1718.70" width="34.10" height="24.30" fill="#ff0000" shape-rendering="crispEdges"/>
<rect x="1785.00" y="1718.70" width="18.00" height="24.30" fill="#ff0000" shape-rendering="crispEdges"/>
<rect x="1517.60" y="1742.40" width="32.60" height="24.30" fill="#00ff00" shape-rendering="crispEdges"/>
<rect x="1549.60" y="1742.40" width="34.50" height="24.30" fill="#00ff00" shape-rendering="crispEdges"/>
<rect x="1583.50" y="1742.40" width="34.20" height="24.30" fill="#00ff00" shape-rendering="crispEdges"/>
<rect x="1617.10" y="1742.40" width="34.20" height="24.30" fill="#009000" shape-rendering="crispEdges"/>
<rect x="1650.70" y="1742.40" width="34.20" height="24.30" fill="#009000" shape-rendering="crispEdges"/>
<rect x="1684.30" y="1742.40" width="34.20" height="24.30" fill="#009800" shape-rendering="crispEdges"/>
<rect x="1717.90" y="1742.40" width="34.20" height="24.30" fill="#ff0000" shape-rendering="crispEdges"/>
<rect x="1751.50" y="1742.40" width="34.10" height="24.30" fill="#ff0000" shape-rendering="crispEdges"/>
<rect x="1785.00" y="1742.40" width="18.00" height="24.30" fill="#ff0000" shape-rendering="crispEdges"/>
<rect x="1517.60" y="1766.10" width="32.60" height="24.30" fill="#00b000" shape-rendering="crispEdges"/>
<rect x="1549.60" y="1766.10" width="34.50" height="24.30" fill="#00b000" shape-rendering="crispEdges"/>
<rect x="1583.50" y="1766.10" width="34.20" height="24.30" fill="#00b000" shape-rendering="crispEdges"/>
<rect x="1617.10" y="1766.10" width="34.20" height="24.30" fill="#00ff00" shape-rendering="crispEdges"/>
<rect x="1650.70" y="1766.10" width="34.20" height="24.30" fill="#00ff00" shape-rendering="crispEdges"/>
<rect x="1684.30" y="1766.10" width="34.20" height="24.30" fill="#00ff00" shape-rendering="crispEdges"/>
<rect x="1717.90" y="1766.10" width="34.20" height="24.30" fill="#ff0000" shape-rendering="crispEdges"/>
<rect x="1751.50" y="1766.10" width="34.10" height="24.30" fill="#ff0000" shape-rendering="crispEdges"/>
<rect x="1785.00" y="1766.10" width="18.00" height="24.30" fill="#ff0000" shape-rendering="crispEdges"/>
<rect x="1517.60" y="1789.80" width="32.60" height="24.30" fill="#00f000" shape-rendering="crispEdges"/>
<rect x="1549.60" y="1789.80" width="34.50" height="24.30" fill="#00f000" shape-rendering="crispEdges"/>
<rect x="1583.50" y="1789.80" width="34.20" height="24.30" fill="#00f000" shape-rendering="crispEdges"/>
<rect x="1617.10" y="1789.80" width="34.20" height="24.30" fill="#00ff00" shape-rendering="crispEdges"/>
<rect x="1650.70" y="1789.80" width="34.20" height="24.30" fill="#00ff00" shape-rendering="crispEdges"/>
<rect x="1684.30" y="1789.80" width="34.20" height="24.30" fill="#00ff00" shape-rendering="crispEdges"/>
<rect x="1717.90" y="1789.80" width="34.20" height="24.30" fill="#ff0000" shape-rendering="crispEdges"/>
<rect x="1751.50" y="1789.80" width="34.10" height="24.30" fill="#ff0000" shape-rendering="crispEdges"/>
<rect x="1785.00" y="1789.80" width="18.00" height="24.30" fill="#ff0000" shape-rendering="crispEdges"/>
<rect x="1517.60" y="1813.50" width="32.60" height="24.30" fill="#00c000" shape-rendering="crispEdges"/>
<rect x="1549.60" y="1813.50" width="34.50" height="24.30" fill="#00c800" shape-rendering="crispEdges"/>
<rect x="1583.50" y="1813.50" width="34.20" height="24.30" fill="#00d000" shape-rendering="crispEdges"/>
<rect x="1617.10" y="1813.50" width="34.20" height="24.30" fill="#00ff00" shape-rendering="crispEdges"/>
<rect x="1650.70" y="1813.50" width="34.20" height="24.30" fill="#00ff00" shape-rendering="crispEdges"/>
<rect x="1684.30" y="1813.50" width="34.20" height="24.30" fill="#00ff00" shape-rendering="crispEdges"/>
<rect x="1717.90" y="1813.50" width="34.20" height="24.30" fill="#ff0000" shape-rendering="crispEdges"/>
<rect x="1751.50" y="1813.50" width="34.10" height="24.30" fill="#f00000" shape-rendering="crispEdges"/>
<rect x="1785.00" y="1813.50" width="18.00" height="24.30" fill="#d80000" shape-rendering="crispEdges"/>
<rect x="1517.60" y="1837.20" width="32.60" height="24.30" fill="#00d000" shape-rendering="crispEdges"/>
<rect x="1549.60" y="1837.20" width="34.50" height="24.30" fill="#00d000" shape-rendering="crispEdges"/>
<rect x="1583.50" y="1837.20" width="34.20" height="24.30" fill="#00d000" shape-rendering="crispEdges"/>
<rect x="1617.10" y="1837.20" width="34.20" height="24.30" fill="#00ff00" shape-rendering="crispEdges"/>
<rect x="1650.70" y="1837.20" width="34.20" height="24.30" fill="#00ff00" shape-rendering="crispEdges"/>
<rect x="1684.30" y="1837.20" width="34.20" height="24.30" fill="#00ff00" shape-rendering="crispEdges"/>
<rect x="1717.90" y="1837.20" width="34.20" height="24.30" fill="#ff0000" shape-rendering="crispEdges"/>
<rect x="1751.50" y="1837.20" width="34.10" height="24.30" fill="#f00000" shape-rendering="crispEdges"/>
<rect x="1785.00" y="1837.20" width="18.00" height="24.30" fill="#d80000" shape-rendering="crispEdges"/>
<rect x="1517.60" y="1860.90" width="32.60" height="24.30" fill="#00d000" shape-rendering="crispEdges"/>
<rect x="1549.60" y="1860.90" width="34.50" height="24.30" fill="#00d000" shape-rendering="crispEdges"/>
<rect x="1583.50" y="1860.90" width="34.20" height="24.30" fill="#00d000" shape-rendering="crispEdges"/>
<rect x="1617.10" y="1860.90" width="34.20" height="24.30" fill="#00ff00" shape-rendering="crispEdges"/>
<rect x="1650.70" y="1860.90" width="34.20" height="24.30" fill="#00ff00" shape-rendering="crispEdges"/>
<rect x="1684.30" y="1860.90" width="34.20" height="24.30" fill="#00ff00" shape-rendering="crispEdges"/>
<rect x="1717.90" y="1860.90" width="34.20" height="24.30" fill="#ff0000" shape-rendering="crispEdges"/>
<rect x="1751.50" y="1860.90" width="34.10" height="24.30" fill="#ff0000" shape-rendering="crispEdges"/>
<rect x="1785.00" y="1860.90" width="18.00" height="24.30" fill="#ff0000" shape-rendering="crispEdges"/>
<rect x="1517.60" y="1884.60" width="32.60" height="24.30" fill="#00f000" shape-rendering="crispEdges"/>
<rect x="1549.60" y="1884.60" width="34.50" height="24.30" fill="#00f000" shape-rendering="crispEdges"/>
<rect x="1583.50" y="1884.60" width="34.20" height="24.30" fill="#00f000" shape-rendering="crispEdges"/>
<rect x="1617.10" y="1884.60" width="34.20" height="24.30" fill="#00ff00" shape-rendering="crispEdges"/>
<rect x="1650.70" y="1884.60" width="34.20" height="24.30" fill="#00ff00" shape-rendering="crispEdges"/>
<rect x="1684.30" y="1884.60" width="34.20" height="24.30" fill="#00ff00" shape-rendering="crispEdges"/>
<rect x="1717.90" y="1884.60" width="34.20" height="24.30" fill="#ff0000" shape-rendering="crispEdges"/>
<rect x="1751.50" y="1884.60" width="34.10" height="24.30" fill="#ff0000" shape-rendering="crispEdges"/>
<rect x="1785.00" y="1884.60" width="18.00" height="24.30" fill="#ff0000" shape-rendering="crispEdges"/>
<rect x="1517.60" y="1908.30" width="32.60" height="24.30" fill="#00f000" shape-rendering="crispEdges"/>
<rect x="1549.60" y="1908.30" width="34.50" height="24.30" fill="#00f000" shape-rendering="crispEdges"/>
<rect x="1583.50" y="1908.30" width="34.20" height="24.30" fill="#00f000" shape-rendering="crispEdges"/>
<rect x="1617.10" y="1908.30" width="34.20" height="24.30" fill="#00d000" shape-rendering="crispEdges"/>
<rect x="1650.70" y="1908.30" width="34.20" height="24.30" fill="#00d000" shape-rendering="crispEdges"/>
<rect x="1684.30" y="1908.30" width="34.20" height="24.30" fill="#00d000" shape-rendering="crispEdges"/>
<rect x="1717.90" y="1908.30" width="34.20" height="24.30" fill="#ff0000" shape-rendering="crispEdges"/>
<rect x="1751.50" y="1908.30" width="34.10" height="24.30" fill="#ff0000" shape-rendering="crispEdges"/>
<rect x="1785.00" y="1908.30" width="18.00" height="24.30" fill="#ff0000" shape-rendering="crispEdges"/>
<rect x="1517.60" y="1932.00" width="32.60" height="24.30" fill="#00c000" shape-rendering="crispEdges"/>
<rect x="1549.60" y="1932.00" width="34.50" height="24.30" fill="#00c800" shape-rendering="crispEdges"/>
<rect x="1583.50" y="1932.00" width="34.20" height="24.30" fill="#00c800" shape-rendering="crispEdges"/>
<rect x="1617.10" y="1932.00" width="34.20" height="24.30" fill="#00ff00" shape-rendering="crispEdges"/>
<rect x="1650.70" y="1932.00" width="34.20" height="24.30" fill="#00ff00" shape-rendering="crispEdges"/>
<rect x="1684.30" y="1932.00" width="34.20" height="24.30" fill="#00ff00" shape-rendering="crispEdges"/>
<rect x="1717.90" y="1932.00" width="34.20" height="24.30" fill="#ff0000" shape-rendering="crispEdges"/>
<rect x="1751.50" y="1932.00" width="34.10" height="24.30" fill="#ff0000" shape-rendering="crispEdges"/>
<rect x="1785.00" y="1932.00" width="18.00" height="24.30" fill="#ff0000" shape-rendering="crispEdges"/>
<rect x="1517.60" y="1955.70" width="32.60" height="24.30" fill="#00e000" shape-rendering="crispEdges"/>
<rect x="1549.60" y="1955.70" width="34.50" height="24.30" fill="#00e000" shape-rendering="crispEdges"/>
<rect x="1583.50" y="1955.70" width="34.20" height="24.30" fill="#00e000" shape-rendering="crispEdges"/>
<rect x="1617.10" y="1955.70" width="34.20" height="24.30" fill="#00ff00" shape-rendering="crispEdges"/>
<rect x="1650.70" y="1955.70" width="34.20" height="24.30" fill="#00ff00" shape-rendering="crispEdges"/>
<rect x="1684.30" y="1955.70" width="34.20" height="24.30" fill="#00ff00" shape-rendering="crispEdges"/>
<rect x="1717.90" y="1955.70" width="34.20" height="24.30" fill="#ff0000" shape-rendering="crispEdges"/>
<rect x="1751.50" y="1955.70" width="34.10" height="24.30" fill="#ff0000" shape-rendering="crispEdges"/>
<rect x="1785.00" y="1955.70" width="18.00" height="24.30" fill="#ff0000" shape-rendering="crispEdges"/>
<rect x="1517.60" y="1979.40" width="32.60" height="24.30" fill="#00f800" shape-rendering="crispEdges"/>
<rect x="1549.60" y="1979.40" width="34.50" height="24.30" fill="#00f800" shape-rendering="crispEdges"/>
<rect x="1583.50" y="1979.40" width="34.20" height="24.30" fill="#00f800" shape-rendering="crispEdges"/>
<rect x="1617.10" y="1979.40" width="34.20" height="24.30" fill="#00ff00" shape-rendering="crispEdges"/>
<rect x="1650.70" y="1979.40" width="34.20" height="24.30" fill="#00ff00" shape-rendering="crispEdges"/>
<rect x="1684.30" y="1979.40" width="34.20" height="24.30" fill="#00ff00" shape-rendering="crispEdges"/>
<rect x="1717.90" y="1979.40" width="34.20" height="24.30" fill="#ff0000" shape-rendering="crispEdges"/>
<rect x="1751.50" y="1979.40" width="34.10" height="24.30" fill="#e00000" shape-rendering="crispEdges"/>
<rect x="1785.00" y="1979.40" width="18.00" height="24.30" fill="#d00000" shape-rendering="crispEdges"/>
<rect x="1517.60" y="2003.10" width="32.60" height="24.30" fill="#200000" shape-rendering="crispEdges"/>
<rect x="1549.60" y="2003.10" width="34.50" height="24.30" fill="#180000" shape-rendering="crispEdges"/>
<rect x="1583.50" y="2003.10" width="34.20" height="24.30" fill="#200000" shape-rendering="crispEdges"/>
<rect x="1617.10" y="2003.10" width="34.20" height="24.30" fill="#00ff00" shape-rendering="crispEdges"/>
<rect x="1650.70" y="2003.10" width="34.20" height="24.30" fill="#00ff00" shape-rendering="crispEdges"/>
<rect x="1684.30" y="2003.10" width="34.20" height="24.30" fill="#00ff00" shape-rendering="crispEdges"/>
<rect x="1717.90" y="2003.10" width="34.20" height="24.30" fill="#ff0000" shape-rendering="crispEdges"/>
<rect x="1751.50" y="2003.10" width="34.10" height="24.30" fill="#ff0000" shape-rendering="crispEdges"/>
<rect x="1785.00" y="2003.10" width="18.00" height="24.30" fill="#ff0000" shape-rendering="crispEdges"/>
<rect x="1517.60" y="2026.80" width="32.60" height="24.30" fill="#b00000" shape-rendering="crispEdges"/>
<rect x="1549.60" y="2026.80" width="34.50" height="24.30" fill="#a00000" shape-rendering="crispEdges"/>
<rect x="1583.50" y="2026.80" width="34.20" height="24.30" fill="#900000" shape-rendering="crispEdges"/>
<rect x="1617.10" y="2026.80" width="34.20" height="24.30" fill="#00ff00" shape-rendering="crispEdges"/>
<rect x="1650.70" y="2026.80" width="34.20" height="24.30" fill="#00ff00" shape-rendering="crispEdges"/>
<rect x="1684.30" y="2026.80" width="34.20" height="24.30" fill="#00ff00" shape-rendering="crispEdges"/>
<rect x="1717.90" y="2026.80" width="34.20" height="24.30" fill="#ff0000" shape-rendering="crispEdges"/>
<rect x="1751.50" y="2026.80" width="34.10" height="24.30" fill="#ff0000" shape-rendering="crispEdges"/>
<rect x="1785.00" y="2026.80" width="18.00" height="24.30" fill="#ff0000" shape-rendering="crispEdges"/>
<rect x="1517.60" y="2050.50" width="32.60" height="24.30" fill="#ff0000" shape-rendering="crispEdges"/>
<rect x="1549.60" y="2050.50" width="34.50" height="24.30" fill="#f80000" shape-rendering="crispEdges"/>
<rect x="1583.50" y="2050.50" width="34.20" height="24.30" fill="#e80000" shape-rendering="crispEdges"/>
<rect x="1617.10" y="2050.50" width="34.20" height="24.30" fill="#00ff00" shape-rendering="crispEdges"/>
<rect x="1650.70" y="2050.50" width="34.20" height="24.30" fill="#00ff00" shape-rendering="crispEdges"/>
<rect x="1684.30" y="2050.50" width="34.20" height="24.30" fill="#00ff00" shape-rendering="crispEdges"/>
<rect x="1717.90" y="2050.50" width="34.20" height="24.30" fill="#d00000" shape-rendering="crispEdges"/>
<rect x="1751.50" y="2050.50" width="34.10" height="24.30" fill="#c00000" shape-rendering="crispEdges"/>
<rect x="1785.00" y="2050.50" width="18.00" height="24.30" fill="#b00000" shape-rendering="crispEdges"/>
<rect x="1517.60" y="2074.20" width="32.60" height="24.30" fill="#003000" shape-rendering="crispEdges"/>
<rect x="1549.60" y="2074.20" width="34.50" height="24.30" fill="#002800" shape-rendering="crispEdges"/>
<rect x="1583.50" y="2074.20" width="34.20" height="24.30" fill="#003000" shape-rendering="crispEdges"/>
<rect x="1617.10" y="2074.20" width="34.20" height="24.30" fill="#00ff00" shape-rendering="crispEdges"/>
<rect x="1650.70" y="2074.20" width="34.20" height="24.30" fill="#00ff00" shape-rendering="crispEdges"/>
<rect x="1684.30" y="2074.20" width="34.20" height="24.30" fill="#00ff00" shape-rendering="crispEdges"/>
<rect x="1717.90" y="2074.20" width="34.20" height="24.30" fill="#ff0000" shape-rendering="crispEdges"/>
<rect x="1751.50" y="2074.20" width="34.10" height="24.30" fill="#ff0000" shape-rendering="crispEdges"/>
<rect x="1785.00" y="2074.20" width="18.00" height="24.30" fill="#ff0000" shape-rendering="crispEdges"/>
<rect x="1517.60" y="2097.90" width="32.60" height="24.30" fill="#004000" shape-rendering="crispEdges"/>
<rect x="1549.60" y="2097.90" width="34.50" height="24.30" fill="#004800" shape-rendering="crispEdges"/>
<rect x="1583.50" y="2097.90" width="34.20" height="24.30" fill="#004800" shape-rendering="crispEdges"/>
<rect x="1617.10" y="2097.90" width="34.20" height="24.30" fill="#00ff00" shape-rendering="crispEdges"/>
<rect x="1650.70" y="2097.90" width="34.20" height="24.30" fill="#00ff00" shape-rendering="crispEdges"/>
<rect x="1684.30" y="2097.90" width="34.20" height="24.30" fill="#00ff00" shape-rendering="crispEdges"/>
<rect x="1717.90" y="2097.90" width="34.20" height="24.30" fill="#ff0000" shape-rendering="crispEdges"/>
<rect x="1751.50" y="2097.90" width="34.10" height="24.30" fill="#ff0000" shape-rendering="crispEdges"/>
<rect x="1785.00" y="2097.90" width="18.00" height="24.30" fill="#ff0000" shape-rendering="crispEdges"/>
<rect x="1517.60" y="2121.60" width="32.60" height="24.30" fill="#004000" shape-rendering="crispEdges"/>
<rect x="1549.60" y="2121.60" width="34.50" height="24.30" fill="#004800" shape-rendering="crispEdges"/>
<rect x="1583.50" y="2121.60" width="34.20" height="24.30" fill="#004000" shape-rendering="crispEdges"/>
<rect x="1617.10" y="2121.60" width="34.20" height="24.30" fill="#00ff00" shape-rendering="crispEdges"/>
<rect x="1650.70" y="2121.60" width="34.20" height="24.30" fill="#00ff00" shape-rendering="crispEdges"/>
<rect x="1684.30" y="2121.60" width="34.20" height="24.30" fill="#00ff00" shape-rendering="crispEdges"/>
<rect x="1717.90" y="2121.60" width="34.20" height="24.30" fill="#ff0000" shape-rendering="crispEdges"/>
<rect x="1751.50" y="2121.60" width="34.10" height="24.30" fill="#ff0000" shape-rendering="crispEdges"/>
<rect x="1785.00" y="2121.60" width="18.00" height="24.30" fill="#ff0000" shape-rendering="crispEdges"/>
<rect x="1517.60" y="2145.30" width="32.60" height="24.30" fill="#200000" shape-rendering="crispEdges"/>
<rect x="1549.60" y="2145.30" width="34.50" height="24.30" fill="#100000" shape-rendering="crispEdges"/>
<rect x="1583.50" y="2145.30" width="34.20" height="24.30" fill="#001000" shape-rendering="crispEdges"/>
<rect x="1617.10" y="2145.30" width="34.20" height="24.30" fill="#00e800" shape-rendering="crispEdges"/>
<rect x="1650.70" y="2145.30" width="34.20" height="24.30" fill="#00f000" shape-rendering="crispEdges"/>
<rect x="1684.30" y="2145.30" width="34.20" height="24.30" fill="#00f800" shape-rendering="crispEdges"/>
<rect x="1717.90" y="2145.30" width="34.20" height="24.30" fill="#ff0000" shape-rendering="crispEdges"/>
<rect x="1751.50" y="2145.30" width="34.10" height="24.30" fill="#ff0000" shape-rendering="crispEdges"/>
<rect x="1785.00" y="2145.30" width="18.00" height="24.30" fill="#ff0000" shape-rendering="crispEdges"/>
<rect x="1517.60" y="2169.00" width="32.60" height="24.30" fill="#003000" shape-rendering="crispEdges"/>
<rect x="1549.60" y="2169.00" width="34.50" height="24.30" fill="#004000" shape-rendering="crispEdges"/>
<rect x="1583.50" y="2169.00" width="34.20" height="24.30" fill="#004800" shape-rendering="crispEdges"/>
<rect x="1617.10" y="2169.00" width="34.20" height="24.30" fill="#00ff00" shape-rendering="crispEdges"/>
<rect x="1650.70" y="2169.00" width="34.20" height="24.30" fill="#00ff00" shape-rendering="crispEdges"/>
<rect x="1684.30" y="2169.00" width="34.20" height="24.30" fill="#00ff00" shape-rendering="crispEdges"/>
<rect x="1717.90" y="2169.00" width="34.20" height="24.30" fill="#ff0000" shape-rendering="crispEdges"/>
<rect x="1751.50" y="2169.00" width="34.10" height="24.30" fill="#f80000" shape-rendering="crispEdges"/>
<rect x="1785.00" y="2169.00" width="18.00" height="24.30" fill="#e00000" shape-rendering="crispEdges"/>
<rect x="1517.60" y="2192.70" width="32.60" height="24.30" fill="#002000" shape-rendering="crispEdges"/>
<rect x="1549.60" y="2192.70" width="34.50" height="24.30" fill="#002800" shape-rendering="crispEdges"/>
<rect x="1583.50" y="2192.70" width="34.20" height="24.30" fill="#002800" shape-rendering="crispEdges"/>
<rect x="1617.10" y="2192.70" width="34.20" height="24.30" fill="#00ff00" shape-rendering="crispEdges"/>
<rect x="1650.70" y="2192.70" width="34.20" height="24.30" fill="#00ff00" shape-rendering="crispEdges"/>
<rect x="1684.30" y="2192.70" width="34.20" height="24.30" fill="#00ff00" shape-rendering="crispEdges"/>
<rect x="1717.90" y="2192.70" width="34.20" height="24.30" fill="#ff0000" shape-rendering="crispEdges"/>
<rect x="1751.50" y="2192.70" width="34.10" height="24.30" fill="#ff0000" shape-rendering="crispEdges"/>
<rect x="1785.00" y="2192.70" width="18.00" height="24.30" fill="#ff0000" shape-rendering="crispEdges"/>
<rect x="1517.60" y="2216.40" width="32.60" height="24.30" fill="#002800" shape-rendering="crispEdges"/>
<rect x="1549.60" y="2216.40" width="34.50" height="24.30" fill="#003000" shape-rendering="crispEdges"/>
<rect x="1583.50" y="2216.40" width="34.20" height="24.30" fill="#003000" shape-rendering="crispEdges"/>
<rect x="1617.10" y="2216.40" width="34.20" height="24.30" fill="#00ff00" shape-rendering="crispEdges"/>
<rect x="1650.70" y="2216.40" width="34.20" height="24.30" fill="#00ff00" shape-rendering="crispEdges"/>
<rect x="1684.30" y="2216.40" width="34.20" height="24.30" fill="#00ff00" shape-rendering="crispEdges"/>
<rect x="1717.90" y="2216.40" width="34.20" height="24.30" fill="#ff0000" shape-rendering="crispEdges"/>
<rect x="1751.50" y="2216.40" width="34.10" height="24.30" fill="#ff0000" shape-rendering="crispEdges"/>
<rect x="1785.00" y="2216.40" width="18.00" height="24.30" fill="#ff0000" shape-rendering="crispEdges"/>
<rect x="1517.60" y="2240.10" width="32.60" height="24.30" fill="#b00000" shape-rendering="crispEdges"/>
<rect x="1549.60" y="2240.10" width="34.50" height="24.30" fill="#a00000" shape-rendering="crispEdges"/>
<rect x="1583.50" y="2240.10" width="34.20" height="24.30" fill="#800000" shape-rendering="crispEdges"/>
<rect x="1617.10" y="2240.10" width="34.20" height="24.30" fill="#00e000" shape-rendering="crispEdges"/>
<rect x="1650.70" y="2240.10" width="34.20" height="24.30" fill="#00f000" shape-rendering="crispEdges"/>
<rect x="1684.30" y="2240.10" width="34.20" height="24.30" fill="#00ff00" shape-rendering="crispEdges"/>
<rect x="1717.90" y="2240.10" width="34.20" height="24.30" fill="#ff0000" shape-rendering="crispEdges"/>
<rect x="1751.50" y="2240.10" width="34.10" height="24.30" fill="#ff0000" shape-rendering="crispEdges"/>
<rect x="1785.00" y="2240.10" width="18.00" height="24.30" fill="#ff0000" shape-rendering="crispEdges"/>
<rect x="1517.60" y="2263.80" width="32.60" height="24.30" fill="#380000" shape-rendering="crispEdges"/>
<rect x="1549.60" y="2263.80" width="34.50" height="24.30" fill="#300000" shape-rendering="crispEdges"/>
<rect x="1583.50" y="2263.80" width="34.20" height="24.30" fill="#200000" shape-rendering="crispEdges"/>
<rect x="1617.10" y="2263.80" width="34.20" height="24.30" fill="#00a000" shape-rendering="crispEdges"/>
<rect x="1650.70" y="2263.80" width="34.20" height="24.30" fill="#00a000" shape-rendering="crispEdges"/>
<rect x="1684.30" y="2263.80" width="34.20" height="24.30" fill="#00b000" shape-rendering="crispEdges"/>
<rect x="1717.90" y="2263.80" width="34.20" height="24.30" fill="#ff0000" shape-rendering="crispEdges"/>
<rect x="1751.50" y="2263.80" width="34.10" height="24.30" fill="#ff0000" shape-rendering="crispEdges"/>
<rect x="1785.00" y="2263.80" width="18.00" height="24.30" fill="#ff0000" shape-rendering="crispEdges"/>
<rect x="1517.60" y="2287.50" width="32.60" height="24.30" fill="#300000" shape-rendering="crispEdges"/>
<rect x="1549.60" y="2287.50" width="34.50" height="24.30" fill="#001000" shape-rendering="crispEdges"/>
<rect x="1583.50" y="2287.50" width="34.20" height="24.30" fill="#002800" shape-rendering="crispEdges"/>
<rect x="1617.10" y="2287.50" width="34.20" height="24.30" fill="#00d000" shape-rendering="crispEdges"/>
<rect x="1650.70" y="2287.50" width="34.20" height="24.30" fill="#00d800" shape-rendering="crispEdges"/>
<rect x="1684.30" y="2287.50" width="34.20" height="24.30" fill="#00f000" shape-rendering="crispEdges"/>
<rect x="1717.90" y="2287.50" width="34.20" height="24.30" fill="#ff0000" shape-rendering="crispEdges"/>
<rect x="1751.50" y="2287.50" width="34.10" height="24.30" fill="#e80000" shape-rendering="crispEdges"/>
<rect x="1785.00" y="2287.50" width="18.00" height="24.30" fill="#c80000" shape-rendering="crispEdges"/>
<rect x="1517.60" y="2311.20" width="32.60" height="24.30" fill="#002000" shape-rendering="crispEdges"/>
<rect x="1549.60" y="2311.20" width="34.50" height="24.30" fill="#003000" shape-rendering="crispEdges"/>
<rect x="1583.50" y="2311.20" width="34.20" height="24.30" fill="#002800" shape-rendering="crispEdges"/>
<rect x="1617.10" y="2311.20" width="34.20" height="24.30" fill="#00ff00" shape-rendering="crispEdges"/>
<rect x="1650.70" y="2311.20" width="34.20" height="24.30" fill="#00ff00" shape-rendering="crispEdges"/>
<rect x="1684.30" y="2311.20" width="34.20" height="24.30" fill="#00ff00" shape-rendering="crispEdges"/>
<rect x="1717.90" y="2311.20" width="34.20" height="24.30" fill="#ff0000" shape-rendering="crispEdges"/>
<rect x="1751.50" y="2311.20" width="34.10" height="24.30" fill="#ff0000" shape-rendering="crispEdges"/>
<rect x="1785.00" y="2311.20" width="18.00" height="24.30" fill="#ff0000" shape-rendering="crispEdges"/>
<rect x="1517.60" y="2334.90" width="32.60" height="24.30" fill="#400000" shape-rendering="crispEdges"/>
<rect x="1549.60" y="2334.90" width="34.50" height="24.30" fill="#300000" shape-rendering="crispEdges"/>
<rect x="1583.50" y="2334.90" width="34.20" height="24.30" fill="#180000" shape-rendering="crispEdges"/>
<rect x="1617.10" y="2334.90" width="34.20" height="24.30" fill="#00e800" shape-rendering="crispEdges"/>
<rect x="1650.70" y="2334.90" width="34.20" height="24.30" fill="#00e800" shape-rendering="crispEdges"/>
<rect x="1684.30" y="2334.90" width="34.20" height="24.30" fill="#00e800" shape-rendering="crispEdges"/>
<rect x="1717.90" y="2334.90" width="34.20" height="24.30" fill="#ff0000" shape-rendering="crispEdges"/>
<rect x="1751.50" y="2334.90" width="34.10" height="24.30" fill="#ff0000" shape-rendering="crispEdges"/>
<rect x="1785.00" y="2334.90" width="18.00" height="24.30" fill="#ff0000" shape-rendering="crispEdges"/>
<rect x="1517.60" y="2358.60" width="32.60" height="23.70" fill="#200000" shape-rendering="crispEdges"/>
<rect x="1549.60" y="2358.60" width="34.50" height="23.70" fill="#200000" shape-rendering="crispEdges"/>
<rect x="1583.50" y="2358.60" width="34.20" height="23.70" fill="#100000" shape-rendering="crispEdges"/>
<rect x="1617.10" y="2358.60" width="34.20" height="23.70" fill="#00ff00" shape-rendering="crispEdges"/>
<rect x="1650.70" y="2358.60" width="34.20" height="23.70" fill="#00ff00" shape-rendering="crispEdges"/>
<rect x="1684.30" y="2358.60" width="34.20" height="23.70" fill="#00ff00" shape-rendering="crispEdges"/>
<rect x="1717.90" y="2358.60" width="34.20" height="23.70" fill="#ff0000" shape-rendering="crispEdges"/>
<rect x="1751.50" y="2358.60" width="34.10" height="23.70" fill="#ff0000" shape-rendering="crispEdges"/>
<rect x="1785.00" y="2358.60" width="18.00" height="23.70" fill="#ff0000" shape-rendering="crispEdges"/>
<text transform="translate(1512.50,266.75) scale(1.7200,1.0000)" font-family='"DejaVu Sans", Verdana, sans-serif' font-size="15" font-weight="bold" text-anchor="end" fill="#000" >ATG4B</text>
<text transform="translate(1512.50,290.45) scale(1.7200,1.0000)" font-family='"DejaVu Sans", Verdana, sans-serif' font-size="15" font-weight="bold" text-anchor="end" fill="#000" >FAS</text>
<text transform="translate(1512.50,314.15) scale(1.7200,1.0000)" font-family='"DejaVu Sans", Verdana, sans-serif' font-size="15" font-weight="bold" text-anchor="end" fill="#000" >NFKB1</text>
<text transform="translate(1512.50,337.85) scale(1.7200,1.0000)" font-family='"DejaVu Sans", Verdana, sans-serif' font-size="15" font-weight="bold" text-anchor="end" fill="#000" >GAA</text>
<text transform="translate(1512.50,361.55) scale(1.7200,1.0000)" font-family='"DejaVu Sans", Verdana, sans-serif' font-size="15" font-weight="bold" text-anchor="end" fill="#000" >HGS</text>
<text transform="translate(1512.50,385.25) scale(1.7200,1.0000)" font-family='"DejaVu Sans", Verdana, sans-serif' font-size="15" font-weight="bold" text-anchor="end" fill="#000" >GAPDH</text>
<text transform="translate(1512.50,408.95) scale(1.7200,1.0000)" font-family='"DejaVu Sans", Verdana, sans-serif' font-size="15" font-weight="bold" text-anchor="end" fill="#000" >BCL2</text>
<text transform="translate(1512.50,432.65) scale(1.7200,1.0000)" font-family='"DejaVu Sans", Verdana, sans-serif' font-size="15" font-weight="bold" text-anchor="end" fill="#000" >B2M</text>
<text transform="translate(1512.50,456.35) scale(1.7200,1.0000)" font-family='"DejaVu Sans", Verdana, sans-serif' font-size="15" font-weight="bold" text-anchor="end" fill="#000" >PIK3C3</text>
<text transform="translate(1512.50,480.05) scale(1.7200,1.0000)" font-family='"DejaVu Sans", Verdana, sans-serif' font-size="15" font-weight="bold" text-anchor="end" fill="#000" >UVRAG</text>
<text transform="translate(1512.50,503.75) scale(1.7200,1.0000)" font-family='"DejaVu Sans", Verdana, sans-serif' font-size="15" font-weight="bold" text-anchor="end" fill="#000" >CXCR4</text>
<text transform="translate(1512.50,527.45) scale(1.7200,1.0000)" font-family='"DejaVu Sans", Verdana, sans-serif' font-size="15" font-weight="bold" text-anchor="end" fill="#000" >ULK1</text>
<text transform="translate(1512.50,551.15) scale(1.7200,1.0000)" font-family='"DejaVu Sans", Verdana, sans-serif' font-size="15" font-weight="bold" text-anchor="end" fill="#000" >CASP3</text>
<text transform="translate(1512.50,574.85) scale(1.7200,1.0000)" font-family='"DejaVu Sans", Verdana, sans-serif' font-size="15" font-weight="bold" text-anchor="end" fill="#000" >MAPK8</text>
<text transform="translate(1512.50,598.55) scale(1.7200,1.0000)" font-family='"DejaVu Sans", Verdana, sans-serif' font-size="15" font-weight="bold" text-anchor="end" fill="#000" >ATG12</text>
<text transform="translate(1512.50,622.25) scale(1.7200,1.0000)" font-family='"DejaVu Sans", Verdana, sans-serif' font-size="15" font-weight="bold" text-anchor="end" fill="#000" >HDAC1</text>
<text transform="translate(1512.50,645.95) scale(1.7200,1.0000)" font-family='"DejaVu Sans", Verdana, sans-serif' font-size="15" font-weight="bold" text-anchor="end" fill="#000" >TP53</text>
<text transform="translate(1512.50,669.65) scale(1.7200,1.0000)" font-family='"DejaVu Sans", Verdana, sans-serif' font-size="15" font-weight="bold" text-anchor="end" fill="#000" >GABARAPL2</text>
<text transform="translate(1512.50,693.35) scale(1.7200,1.0000)" font-family='"DejaVu Sans", Verdana, sans-serif' font-size="15" font-weight="bold" text-anchor="end" fill="#000" >ACTB</text>
<text transform="translate(1512.50,717.05) scale(1.7200,1.0000)" font-family='"DejaVu Sans", Verdana, sans-serif' font-size="15" font-weight="bold" text-anchor="end" fill="#000" >BAD</text>
<text transform="translate(1512.50,740.75) scale(1.7200,1.0000)" font-family='"DejaVu Sans", Verdana, sans-serif' font-size="15" font-weight="bold" text-anchor="end" fill="#000" >HSPA8</text>
<text transform="translate(1512.50,764.45) scale(1.7200,1.0000)" font-family='"DejaVu Sans", Verdana, sans-serif' font-size="15" font-weight="bold" text-anchor="end" fill="#000" >RGS19</text>
<text transform="translate(1512.50,788.15) scale(1.7200,1.0000)" font-family='"DejaVu Sans", Verdana, sans-serif' font-size="15" font-weight="bold" text-anchor="end" fill="#000" >MAP1LC3B</text>
<text transform="translate(1512.50,811.85) scale(1.7200,1.0000)" font-family='"DejaVu Sans", Verdana, sans-serif' font-size="15" font-weight="bold" text-anchor="end" fill="#000" >CASP8</text>
<text transform="translate(1512.50,835.55) scale(1.7200,1.0000)" font-family='"DejaVu Sans", Verdana, sans-serif' font-size="15" font-weight="bold" text-anchor="end" fill="#000" >EIF4G1</text>
<text transform="translate(1512.50,859.25) scale(1.7200,1.0000)" font-family='"DejaVu Sans", Verdana, sans-serif' font-size="15" font-weight="bold" text-anchor="end" fill="#000" >HSP90AA1</text>
<text transform="translate(1512.50,882.95) scale(1.7200,1.0000)" font-family='"DejaVu Sans", Verdana, sans-serif' font-size="15" font-weight="bold" text-anchor="end" fill="#000" >SQSTM1</text>
<text transform="translate(1512.50,906.65) scale(1.7200,1.0000)" font-family='"DejaVu Sans", Verdana, sans-serif' font-size="15" font-weight="bold" text-anchor="end" fill="#000" >BCL2L1</text>
<text transform="translate(1512.50,930.35) scale(1.7200,1.0000)" font-family='"DejaVu Sans", Verdana, sans-serif' font-size="15" font-weight="bold" text-anchor="end" fill="#000" >HPRT1</text>
<text transform="translate(1512.50,954.05) scale(1.7200,1.0000)" font-family='"DejaVu Sans", Verdana, sans-serif' font-size="15" font-weight="bold" text-anchor="end" fill="#000" >APP</text>
<text transform="translate(1512.50,977.75) scale(1.7200,1.0000)" font-family='"DejaVu Sans", Verdana, sans-serif' font-size="15" font-weight="bold" text-anchor="end" fill="#000" >MAPK14</text>
<text transform="translate(1512.50,1001.45) scale(1.7200,1.0000)" font-family='"DejaVu Sans", Verdana, sans-serif' font-size="15" font-weight="bold" text-anchor="end" fill="#000" >BID</text>
<text transform="translate(1512.50,1025.15) scale(1.7200,1.0000)" font-family='"DejaVu Sans", Verdana, sans-serif' font-size="15" font-weight="bold" text-anchor="end" fill="#000" >BAX</text>
<text transform="translate(1512.50,1048.85) scale(1.7200,1.0000)" font-family='"DejaVu Sans", Verdana, sans-serif' font-size="15" font-weight="bold" text-anchor="end" fill="#000" >BECN1</text>
<text transform="translate(1512.50,1072.55) scale(1.7200,1.0000)" font-family='"DejaVu Sans", Verdana, sans-serif' font-size="15" font-weight="bold" text-anchor="end" fill="#000" >FADD</text>
<text transform="translate(1512.50,1096.25) scale(1.7200,1.0000)" font-family='"DejaVu Sans", Verdana, sans-serif' font-size="15" font-weight="bold" text-anchor="end" fill="#000" >ATG5</text>
<text transform="translate(1512.50,1119.95) scale(1.7200,1.0000)" font-family='"DejaVu Sans", Verdana, sans-serif' font-size="15" font-weight="bold" text-anchor="end" fill="#000" >ATG4D</text>
<text transform="translate(1512.50,1143.65) scale(1.7200,1.0000)" font-family='"DejaVu Sans", Verdana, sans-serif' font-size="15" font-weight="bold" text-anchor="end" fill="#000" >MTOR</text>
<text transform="translate(1512.50,1167.35) scale(1.7200,1.0000)" font-family='"DejaVu Sans", Verdana, sans-serif' font-size="15" font-weight="bold" text-anchor="end" fill="#000" >BAK1</text>
<text transform="translate(1512.50,1191.05) scale(1.7200,1.0000)" font-family='"DejaVu Sans", Verdana, sans-serif' font-size="15" font-weight="bold" text-anchor="end" fill="#000" >DAPK1</text>
<text transform="translate(1512.50,1214.75) scale(1.7200,1.0000)" font-family='"DejaVu Sans", Verdana, sans-serif' font-size="15" font-weight="bold" text-anchor="end" fill="#000" >PTEN</text>
<text transform="translate(1512.50,1238.45) scale(1.7200,1.0000)" font-family='"DejaVu Sans", Verdana, sans-serif' font-size="15" font-weight="bold" text-anchor="end" fill="#000" >ATG16L2</text>
<text transform="translate(1512.50,1262.15) scale(1.7200,1.0000)" font-family='"DejaVu Sans", Verdana, sans-serif' font-size="15" font-weight="bold" text-anchor="end" fill="#000" >RAB24</text>
<text transform="translate(1512.50,1285.85) scale(1.7200,1.0000)" font-family='"DejaVu Sans", Verdana, sans-serif' font-size="15" font-weight="bold" text-anchor="end" fill="#000" >LAMP1</text>
<text transform="translate(1512.50,1309.55) scale(1.7200,1.0000)" font-family='"DejaVu Sans", Verdana, sans-serif' font-size="15" font-weight="bold" text-anchor="end" fill="#000" >ATG16L1</text>
<text transform="translate(1512.50,1333.25) scale(1.7200,1.0000)" font-family='"DejaVu Sans", Verdana, sans-serif' font-size="15" font-weight="bold" text-anchor="end" fill="#000" >CTSB</text>
<text transform="translate(1512.50,1356.95) scale(1.7200,1.0000)" font-family='"DejaVu Sans", Verdana, sans-serif' font-size="15" font-weight="bold" text-anchor="end" fill="#000" >TGFB1</text>
<text transform="translate(1512.50,1380.65) scale(1.7200,1.0000)" font-family='"DejaVu Sans", Verdana, sans-serif' font-size="15" font-weight="bold" text-anchor="end" fill="#000" >ATG3</text>
<text transform="translate(1512.50,1404.35) scale(1.7200,1.0000)" font-family='"DejaVu Sans", Verdana, sans-serif' font-size="15" font-weight="bold" text-anchor="end" fill="#000" >CLN3</text>
<text transform="translate(1512.50,1428.05) scale(1.7200,1.0000)" font-family='"DejaVu Sans", Verdana, sans-serif' font-size="15" font-weight="bold" text-anchor="end" fill="#000" >CDKN2A</text>
<text transform="translate(1512.50,1451.75) scale(1.7200,1.0000)" font-family='"DejaVu Sans", Verdana, sans-serif' font-size="15" font-weight="bold" text-anchor="end" fill="#000" >WIPI1</text>
<text transform="translate(1512.50,1475.45) scale(1.7200,1.0000)" font-family='"DejaVu Sans", Verdana, sans-serif' font-size="15" font-weight="bold" text-anchor="end" fill="#000" >DRAM1</text>
<text transform="translate(1512.50,1499.15) scale(1.7200,1.0000)" font-family='"DejaVu Sans", Verdana, sans-serif' font-size="15" font-weight="bold" text-anchor="end" fill="#000" >GABARAP</text>
<text transform="translate(1512.50,1522.85) scale(1.7200,1.0000)" font-family='"DejaVu Sans", Verdana, sans-serif' font-size="15" font-weight="bold" text-anchor="end" fill="#000" >CTSD</text>
<text transform="translate(1512.50,1546.55) scale(1.7200,1.0000)" font-family='"DejaVu Sans", Verdana, sans-serif' font-size="15" font-weight="bold" text-anchor="end" fill="#000" >IFNG</text>
<text transform="translate(1512.50,1570.25) scale(1.7200,1.0000)" font-family='"DejaVu Sans", Verdana, sans-serif' font-size="15" font-weight="bold" text-anchor="end" fill="#000" >IGF1</text>
<text transform="translate(1512.50,1593.95) scale(1.7200,1.0000)" font-family='"DejaVu Sans", Verdana, sans-serif' font-size="15" font-weight="bold" text-anchor="end" fill="#000" >CDKN1B</text>
<text transform="translate(1512.50,1617.65) scale(1.7200,1.0000)" font-family='"DejaVu Sans", Verdana, sans-serif' font-size="15" font-weight="bold" text-anchor="end" fill="#000" >MAP1LC3A</text>
<text transform="translate(1512.50,1641.35) scale(1.7200,1.0000)" font-family='"DejaVu Sans", Verdana, sans-serif' font-size="15" font-weight="bold" text-anchor="end" fill="#000" >AKT1</text>
<text transform="translate(1512.50,1665.05) scale(1.7200,1.0000)" font-family='"DejaVu Sans", Verdana, sans-serif' font-size="15" font-weight="bold" text-anchor="end" fill="#000" >PIK3R4</text>
<text transform="translate(1512.50,1688.75) scale(1.7200,1.0000)" font-family='"DejaVu Sans", Verdana, sans-serif' font-size="15" font-weight="bold" text-anchor="end" fill="#000" >CTSS</text>
<text transform="translate(1512.50,1712.45) scale(1.7200,1.0000)" font-family='"DejaVu Sans", Verdana, sans-serif' font-size="15" font-weight="bold" text-anchor="end" fill="#000" >GABARAPL1</text>
<text transform="translate(1512.50,1736.15) scale(1.7200,1.0000)" font-family='"DejaVu Sans", Verdana, sans-serif' font-size="15" font-weight="bold" text-anchor="end" fill="#000" >DRAM2</text>
<text transform="translate(1512.50,1759.85) scale(1.7200,1.0000)" font-family='"DejaVu Sans", Verdana, sans-serif' font-size="15" font-weight="bold" text-anchor="end" fill="#000" >EIF2AK3</text>
<text transform="translate(1512.50,1783.55) scale(1.7200,1.0000)" font-family='"DejaVu Sans", Verdana, sans-serif' font-size="15" font-weight="bold" text-anchor="end" fill="#000" >TNFSF10</text>
<text transform="translate(1512.50,1807.25) scale(1.7200,1.0000)" font-family='"DejaVu Sans", Verdana, sans-serif' font-size="15" font-weight="bold" text-anchor="end" fill="#000" >HGDC</text>
<text transform="translate(1512.50,1830.95) scale(1.7200,1.0000)" font-family='"DejaVu Sans", Verdana, sans-serif' font-size="15" font-weight="bold" text-anchor="end" fill="#000" >TMEM74</text>
<text transform="translate(1512.50,1854.65) scale(1.7200,1.0000)" font-family='"DejaVu Sans", Verdana, sans-serif' font-size="15" font-weight="bold" text-anchor="end" fill="#000" >INS</text>
<text transform="translate(1512.50,1878.35) scale(1.7200,1.0000)" font-family='"DejaVu Sans", Verdana, sans-serif' font-size="15" font-weight="bold" text-anchor="end" fill="#000" >PIK3CG</text>
<text transform="translate(1512.50,1902.05) scale(1.7200,1.0000)" font-family='"DejaVu Sans", Verdana, sans-serif' font-size="15" font-weight="bold" text-anchor="end" fill="#000" >ATG4C</text>
<text transform="translate(1512.50,1925.75) scale(1.7200,1.0000)" font-family='"DejaVu Sans", Verdana, sans-serif' font-size="15" font-weight="bold" text-anchor="end" fill="#000" >ATG7</text>
<text transform="translate(1512.50,1949.45) scale(1.7200,1.0000)" font-family='"DejaVu Sans", Verdana, sans-serif' font-size="15" font-weight="bold" text-anchor="end" fill="#000" >TNF</text>
<text transform="translate(1512.50,1973.15) scale(1.7200,1.0000)" font-family='"DejaVu Sans", Verdana, sans-serif' font-size="15" font-weight="bold" text-anchor="end" fill="#000" >ESR1</text>
<text transform="translate(1512.50,1996.85) scale(1.7200,1.0000)" font-family='"DejaVu Sans", Verdana, sans-serif' font-size="15" font-weight="bold" text-anchor="end" fill="#000" >IRGM</text>
<text transform="translate(1512.50,2020.55) scale(1.7200,1.0000)" font-family='"DejaVu Sans", Verdana, sans-serif' font-size="15" font-weight="bold" text-anchor="end" fill="#000" >BNIP3</text>
<text transform="translate(1512.50,2044.25) scale(1.7200,1.0000)" font-family='"DejaVu Sans", Verdana, sans-serif' font-size="15" font-weight="bold" text-anchor="end" fill="#000" >RB1</text>
<text transform="translate(1512.50,2067.95) scale(1.7200,1.0000)" font-family='"DejaVu Sans", Verdana, sans-serif' font-size="15" font-weight="bold" text-anchor="end" fill="#000" >SNCA</text>
<text transform="translate(1512.50,2091.65) scale(1.7200,1.0000)" font-family='"DejaVu Sans", Verdana, sans-serif' font-size="15" font-weight="bold" text-anchor="end" fill="#000" >RPS6KB1</text>
<text transform="translate(1512.50,2115.35) scale(1.7200,1.0000)" font-family='"DejaVu Sans", Verdana, sans-serif' font-size="15" font-weight="bold" text-anchor="end" fill="#000" >ATG10</text>
<text transform="translate(1512.50,2139.05) scale(1.7200,1.0000)" font-family='"DejaVu Sans", Verdana, sans-serif' font-size="15" font-weight="bold" text-anchor="end" fill="#000" >ATG9B</text>
<text transform="translate(1512.50,2162.75) scale(1.7200,1.0000)" font-family='"DejaVu Sans", Verdana, sans-serif' font-size="15" font-weight="bold" text-anchor="end" fill="#000" >PRKAA1</text>
<text transform="translate(1512.50,2186.45) scale(1.7200,1.0000)" font-family='"DejaVu Sans", Verdana, sans-serif' font-size="15" font-weight="bold" text-anchor="end" fill="#000" >ATG4A</text>
<text transform="translate(1512.50,2210.15) scale(1.7200,1.0000)" font-family='"DejaVu Sans", Verdana, sans-serif' font-size="15" font-weight="bold" text-anchor="end" fill="#000" >NPC1</text>
<text transform="translate(1512.50,2233.85) scale(1.7200,1.0000)" font-family='"DejaVu Sans", Verdana, sans-serif' font-size="15" font-weight="bold" text-anchor="end" fill="#000" >TGM2</text>
<text transform="translate(1512.50,2257.55) scale(1.7200,1.0000)" font-family='"DejaVu Sans", Verdana, sans-serif' font-size="15" font-weight="bold" text-anchor="end" fill="#000" >HDAC6</text>
<text transform="translate(1512.50,2281.25) scale(1.7200,1.0000)" font-family='"DejaVu Sans", Verdana, sans-serif' font-size="15" font-weight="bold" text-anchor="end" fill="#000" >ATG9A</text>
<text transform="translate(1512.50,2304.95) scale(1.7200,1.0000)" font-family='"DejaVu Sans", Verdana, sans-serif' font-size="15" font-weight="bold" text-anchor="end" fill="#000" >ULK2</text>
<text transform="translate(1512.50,2328.65) scale(1.7200,1.0000)" font-family='"DejaVu Sans", Verdana, sans-serif' font-size="15" font-weight="bold" text-anchor="end" fill="#000" >HTT</text>
<text transform="translate(1512.50,2352.35) scale(1.7200,1.0000)" font-family='"DejaVu Sans", Verdana, sans-serif' font-size="15" font-weight="bold" text-anchor="end" fill="#000" >AMBRA1</text>
<text transform="translate(1512.50,2376.05) scale(1.7200,1.0000)" font-family='"DejaVu Sans", Verdana, sans-serif' font-size="15" font-weight="bold" text-anchor="end" fill="#000" >RPLP0</text>
<line x1="1559.70" y1="7.20" x2="1737.70" y2="7.20" stroke="#222" stroke-width="1.8" stroke-linecap="square"/>
<line x1="1559.70" y1="7.20" x2="1559.70" y2="95.70" stroke="#222" stroke-width="1.8" stroke-linecap="square"/>
<line x1="1737.70" y1="7.20" x2="1737.70" y2="59.70" stroke="#222" stroke-width="1.8" stroke-linecap="square"/>
<line x1="1660.00" y1="59.70" x2="1802.50" y2="59.70" stroke="#222" stroke-width="1.8" stroke-linecap="square"/>
<line x1="1660.00" y1="59.70" x2="1660.00" y2="95.70" stroke="#222" stroke-width="1.8" stroke-linecap="square"/>
<line x1="1802.50" y1="59.70" x2="1802.50" y2="95.70" stroke="#222" stroke-width="1.8" stroke-linecap="square"/>
<line x1="1534.00" y1="95.70" x2="1603.00" y2="95.70" stroke="#222" stroke-width="1.8" stroke-linecap="square"/>
<line x1="1633.80" y1="95.70" x2="1703.70" y2="95.70" stroke="#222" stroke-width="1.8" stroke-linecap="square"/>
<line x1="1734.60" y1="95.70" x2="1802.50" y2="95.70" stroke="#222" stroke-width="1.8" stroke-linecap="square"/>
<line x1="1760.00" y1="91.60" x2="1802.50" y2="91.60" stroke="#222" stroke-width="1.8" stroke-linecap="square"/>
<line x1="1760.00" y1="91.60" x2="1760.00" y2="95.70" stroke="#222" stroke-width="1.8" stroke-linecap="square"/>
<line x1="1534.00" y1="95.70" x2="1534.00" y2="99.00" stroke="#222" stroke-width="2" stroke-linecap="butt"/>
<line x1="1568.00" y1="95.70" x2="1568.00" y2="99.00" stroke="#222" stroke-width="2" stroke-linecap="butt"/>
<line x1="1585.00" y1="95.70" x2="1585.00" y2="99.00" stroke="#222" stroke-width="2" stroke-linecap="butt"/>
<line x1="1603.00" y1="95.70" x2="1603.00" y2="99.00" stroke="#222" stroke-width="2" stroke-linecap="butt"/>
<line x1="1634.00" y1="95.70" x2="1634.00" y2="99.00" stroke="#222" stroke-width="2" stroke-linecap="butt"/>
<line x1="1668.00" y1="95.70" x2="1668.00" y2="99.00" stroke="#222" stroke-width="2" stroke-linecap="butt"/>
<line x1="1685.00" y1="95.70" x2="1685.00" y2="99.00" stroke="#222" stroke-width="2" stroke-linecap="butt"/>
<line x1="1703.00" y1="95.70" x2="1703.00" y2="99.00" stroke="#222" stroke-width="2" stroke-linecap="butt"/>
<line x1="1735.00" y1="95.70" x2="1735.00" y2="99.00" stroke="#222" stroke-width="2" stroke-linecap="butt"/>
<line x1="1768.00" y1="95.70" x2="1768.00" y2="99.00" stroke="#222" stroke-width="2" stroke-linecap="butt"/>
<line x1="1785.00" y1="95.70" x2="1785.00" y2="99.00" stroke="#222" stroke-width="2" stroke-linecap="butt"/>
<defs><linearGradient id="cb" x1="0" x2="1" y1="0" y2="0"><stop offset="0" stop-color="#10f010"/><stop offset="0.5" stop-color="#000"/><stop offset="1" stop-color="#ff0808"/></linearGradient></defs>
<rect x="301.5" y="2417.5" width="1320.5" height="24.5" fill="url(#cb)" stroke="#222" stroke-width="1.5"/>
<line x1="301.50" y1="2442.00" x2="301.50" y2="2448.50" stroke="#222" stroke-width="1.5" stroke-linecap="butt"/>
<line x1="961.50" y1="2442.00" x2="961.50" y2="2448.50" stroke="#222" stroke-width="1.5" stroke-linecap="butt"/>
<line x1="1622.00" y1="2442.00" x2="1622.00" y2="2448.50" stroke="#222" stroke-width="1.5" stroke-linecap="butt"/>
<text transform="translate(2.95,102.00) scale(0.9962,1)" font-family='"Liberation Sans", Arial, sans-serif' font-size="58.50" font-weight="bold" text-anchor="start" >A</text>
<text transform="translate(6.13,957.17) scale(0.8305,1)" font-family='"Liberation Sans", Arial, sans-serif' font-size="59.09" font-weight="bold" text-anchor="start" >B</text>
<text transform="translate(5.00,1668.03) scale(0.8011,1)" font-family='"Liberation Sans", Arial, sans-serif' font-size="58.23" font-weight="bold" text-anchor="start" >C</text>
<text transform="translate(903.46,101.83) scale(0.9367,1)" font-family='"Liberation Sans", Arial, sans-serif' font-size="61.24" font-weight="bold" text-anchor="start" >D</text>
<text transform="translate(75.20,345.24) rotate(-90) scale(0.8943,1)" font-family='"Liberation Sans", Arial, sans-serif' font-size="51.08" font-weight="normal" text-anchor="middle" stroke="#000" stroke-width="1.4">Ki-67 Optical Density</text>
<text transform="translate(76.93,1161.99) rotate(-90) scale(0.8675,1)" font-family='"Liberation Sans", Arial, sans-serif' font-size="46.06" font-weight="normal" text-anchor="middle" stroke="#000" stroke-width="1.0">LC3 Optical Density</text>
<text transform="translate(66.89,1920.00) rotate(-90) scale(0.8894,1)" font-family='"Liberation Sans", Arial, sans-serif' font-size="45.99" font-weight="normal" text-anchor="middle" stroke="#000" stroke-width="1.0">P62 Optical Density</text>
<text transform="translate(373.76,833.89) scale(1.2405,1)" font-family='"Liberation Sans", Arial, sans-serif' font-size="44.31" font-weight="bold" text-anchor="middle" >Temperature (°C)</text>
<text transform="translate(376.26,1587.75) scale(1.3215,1)" font-family='"Liberation Sans", Arial, sans-serif' font-size="39.36" font-weight="bold" text-anchor="middle" >Temperature (°C)</text>
<text transform="translate(371.75,2368.84) scale(1.2897,1)" font-family='"Liberation Sans", Arial, sans-serif' font-size="40.89" font-weight="bold" text-anchor="middle" >Temperature (°C)</text>
<text transform="translate(267.32,683.03) scale(1.2315,1) rotate(-45)" font-family='"Liberation Sans", Arial, sans-serif' font-size="41.22" font-weight="normal" text-anchor="end" stroke="#000" stroke-width="0.9">Control</text>
<text transform="translate(403.06,688.38) scale(1.1924,1) rotate(-45)" font-family='"Liberation Sans", Arial, sans-serif' font-size="38.07" font-weight="normal" text-anchor="end" stroke="#000" stroke-width="0.9">43</text>
<text transform="translate(549.39,687.34) scale(1.2057,1) rotate(-45)" font-family='"Liberation Sans", Arial, sans-serif' font-size="38.60" font-weight="normal" text-anchor="end" stroke="#000" stroke-width="0.9">48</text>
<text transform="translate(273.21,1452.92) scale(1.3792,1) rotate(-45)" font-family='"Liberation Sans", Arial, sans-serif' font-size="37.12" font-weight="normal" text-anchor="end" stroke="#000" stroke-width="1.5">Control</text>
<text transform="translate(416.38,1450.42) scale(1.3884,1) rotate(-45)" font-family='"Liberation Sans", Arial, sans-serif' font-size="33.87" font-weight="normal" text-anchor="end" stroke="#000" stroke-width="1.5">43</text>
<text transform="translate(556.73,1450.43) scale(1.3606,1) rotate(-45)" font-family='"Liberation Sans", Arial, sans-serif' font-size="33.77" font-weight="normal" text-anchor="end" stroke="#000" stroke-width="1.5">48</text>
<text transform="translate(267.40,2226.28) scale(1.3362,1) rotate(-45)" font-family='"Liberation Sans", Arial, sans-serif' font-size="39.57" font-weight="normal" text-anchor="end" stroke="#000" stroke-width="1.5">Control</text>
<text transform="translate(410.41,2224.69) scale(1.3402,1) rotate(-45)" font-family='"Liberation Sans", Arial, sans-serif' font-size="36.26" font-weight="normal" text-anchor="end" stroke="#000" stroke-width="1.5">43</text>
<text transform="translate(553.67,2224.76) scale(1.3304,1) rotate(-45)" font-family='"Liberation Sans", Arial, sans-serif' font-size="36.49" font-weight="normal" text-anchor="end" stroke="#000" stroke-width="1.5">48</text>
<text transform="translate(1619.98,150.89) scale(0.9834,1)" font-family='"Liberation Sans", Arial, sans-serif' font-size="34.23" font-weight="normal" text-anchor="start" stroke="#000" stroke-width="0.9">48 °C</text>
<text transform="translate(1718.98,150.89) scale(0.9838,1)" font-family='"Liberation Sans", Arial, sans-serif' font-size="34.23" font-weight="normal" text-anchor="start" stroke="#000" stroke-width="0.9">43 °C</text>
<text transform="translate(1520.27,104.99) rotate(90) scale(1.3646,1)" font-family='"Liberation Sans", Arial, sans-serif' font-size="16.10" font-weight="normal" text-anchor="start" stroke="#000" stroke-width="1.0">Control Group</text>
<text transform="translate(1552.98,104.99) rotate(90) scale(1.3519,1)" font-family='"Liberation Sans", Arial, sans-serif' font-size="16.25" font-weight="normal" text-anchor="start" stroke="#000" stroke-width="1.0">Control Group</text>
<text transform="translate(1586.72,104.99) rotate(90) scale(1.2658,1)" font-family='"Liberation Sans", Arial, sans-serif' font-size="17.43" font-weight="normal" text-anchor="start" stroke="#000" stroke-width="1.0">Control Group</text>
<text transform="translate(1618.19,194.42) rotate(90) scale(1.2563,1)" font-family='"Liberation Sans", Arial, sans-serif' font-size="18.09" font-weight="normal" text-anchor="start" stroke="#000" stroke-width="1.0">12ng</text>
<text transform="translate(1649.84,194.92) rotate(90) scale(1.1903,1)" font-family='"Liberation Sans", Arial, sans-serif' font-size="18.65" font-weight="normal" text-anchor="start" stroke="#000" stroke-width="1.0">12ng</text>
<text transform="translate(1682.97,194.94) rotate(90) scale(1.4412,1)" font-family='"Liberation Sans", Arial, sans-serif' font-size="15.51" font-weight="normal" text-anchor="start" stroke="#000" stroke-width="1.0">12ng</text>
<text transform="translate(1717.19,183.16) rotate(90) scale(1.3210,1)" font-family='"Liberation Sans", Arial, sans-serif' font-size="16.37" font-weight="normal" text-anchor="start" stroke="#000" stroke-width="1.0">393ng</text>
<text transform="translate(1750.17,183.14) rotate(90) scale(1.1273,1)" font-family='"Liberation Sans", Arial, sans-serif' font-size="19.18" font-weight="normal" text-anchor="start" stroke="#000" stroke-width="1.0">393ng</text>
<text transform="translate(1784.02,183.19) rotate(90) scale(1.1586,1)" font-family='"Liberation Sans", Arial, sans-serif' font-size="18.65" font-weight="normal" text-anchor="start" stroke="#000" stroke-width="1.0">393ng</text>
<text transform="translate(962.00,2410.57) scale(1.6326,1)" font-family='"DejaVu Sans", Verdana, sans-serif' font-size="15.64" font-weight="bold" text-anchor="middle" >Magnitude of gene expression</text>
<text transform="translate(277.91,2468.00) scale(1.6202,1)" font-family='"DejaVu Sans", Verdana, sans-serif' font-size="15.46" font-weight="bold" text-anchor="start" >min</text>
<text transform="translate(962.80,2466.92) scale(1.5434,1)" font-family='"DejaVu Sans", Verdana, sans-serif' font-size="17.50" font-weight="bold" text-anchor="middle" >avg</text>
<text transform="translate(1586.67,2468.88) scale(1.3671,1)" font-family='"DejaVu Sans", Verdana, sans-serif' font-size="20.17" font-weight="bold" text-anchor="start" >max</text>
<text transform="translate(385.79,133.89) scale(1.3803,1)" font-family='"Liberation Sans", Arial, sans-serif' font-size="27.85" font-weight="normal" text-anchor="start" stroke="#000" stroke-width="0.6">**</text>
<text transform="translate(469.11,203.40) scale(1.1935,1)" font-family='"Liberation Sans", Arial, sans-serif' font-size="31.25" font-weight="normal" text-anchor="start" stroke="#000" stroke-width="0.6">**</text>
<text transform="translate(363.67,926.73) scale(1.6029,1)" font-family='"Liberation Sans", Arial, sans-serif' font-size="27.10" font-weight="normal" text-anchor="start" stroke="#000" stroke-width="0.6">***</text>
<text transform="translate(446.83,981.36) scale(1.4883,1)" font-family='"Liberation Sans", Arial, sans-serif' font-size="30.27" font-weight="normal" text-anchor="start" stroke="#000" stroke-width="0.6">****</text>
<text transform="translate(159.52,640.60) scale(1.1723,1)" font-family='"Liberation Sans", Arial, sans-serif' font-size="40.00" font-weight="bold" text-anchor="end" >0.0</text>
<text transform="translate(159.52,507.20) scale(1.1723,1)" font-family='"Liberation Sans", Arial, sans-serif' font-size="40.00" font-weight="bold" text-anchor="end" >0.1</text>
<text transform="translate(159.52,373.80) scale(1.1723,1)" font-family='"Liberation Sans", Arial, sans-serif' font-size="40.00" font-weight="bold" text-anchor="end" >0.2</text>
<text transform="translate(159.52,240.40) scale(1.1723,1)" font-family='"Liberation Sans", Arial, sans-serif' font-size="40.00" font-weight="bold" text-anchor="end" >0.3</text>
<text transform="translate(159.52,107.00) scale(1.1723,1)" font-family='"Liberation Sans", Arial, sans-serif' font-size="40.00" font-weight="bold" text-anchor="end" >0.4</text>
<text transform="translate(166.48,1410.50) scale(1.3581,1)" font-family='"Liberation Sans", Arial, sans-serif' font-size="34.50" font-weight="bold" text-anchor="end" >0.0</text>
<text transform="translate(166.48,1316.60) scale(1.3581,1)" font-family='"Liberation Sans", Arial, sans-serif' font-size="34.50" font-weight="bold" text-anchor="end" >0.1</text>
<text transform="translate(166.48,1222.70) scale(1.3581,1)" font-family='"Liberation Sans", Arial, sans-serif' font-size="34.50" font-weight="bold" text-anchor="end" >0.2</text>
<text transform="translate(166.48,1128.80) scale(1.3581,1)" font-family='"Liberation Sans", Arial, sans-serif' font-size="34.50" font-weight="bold" text-anchor="end" >0.3</text>
<text transform="translate(166.48,1034.90) scale(1.3581,1)" font-family='"Liberation Sans", Arial, sans-serif' font-size="34.50" font-weight="bold" text-anchor="end" >0.4</text>
<text transform="translate(166.48,941.00) scale(1.3581,1)" font-family='"Liberation Sans", Arial, sans-serif' font-size="34.50" font-weight="bold" text-anchor="end" >0.5</text>
<text transform="translate(156.48,2183.20) scale(1.2705,1)" font-family='"Liberation Sans", Arial, sans-serif' font-size="37.00" font-weight="bold" text-anchor="end" >0.0</text>
<text transform="translate(156.48,2019.80) scale(1.2705,1)" font-family='"Liberation Sans", Arial, sans-serif' font-size="37.00" font-weight="bold" text-anchor="end" >0.2</text>
<text transform="translate(156.48,1856.40) scale(1.2705,1)" font-family='"Liberation Sans", Arial, sans-serif' font-size="37.00" font-weight="bold" text-anchor="end" >0.4</text>
<text transform="translate(156.48,1693.00) scale(1.2705,1)" font-family='"Liberation Sans", Arial, sans-serif' font-size="37.00" font-weight="bold" text-anchor="end" >0.6</text></svg>
</body></html>
